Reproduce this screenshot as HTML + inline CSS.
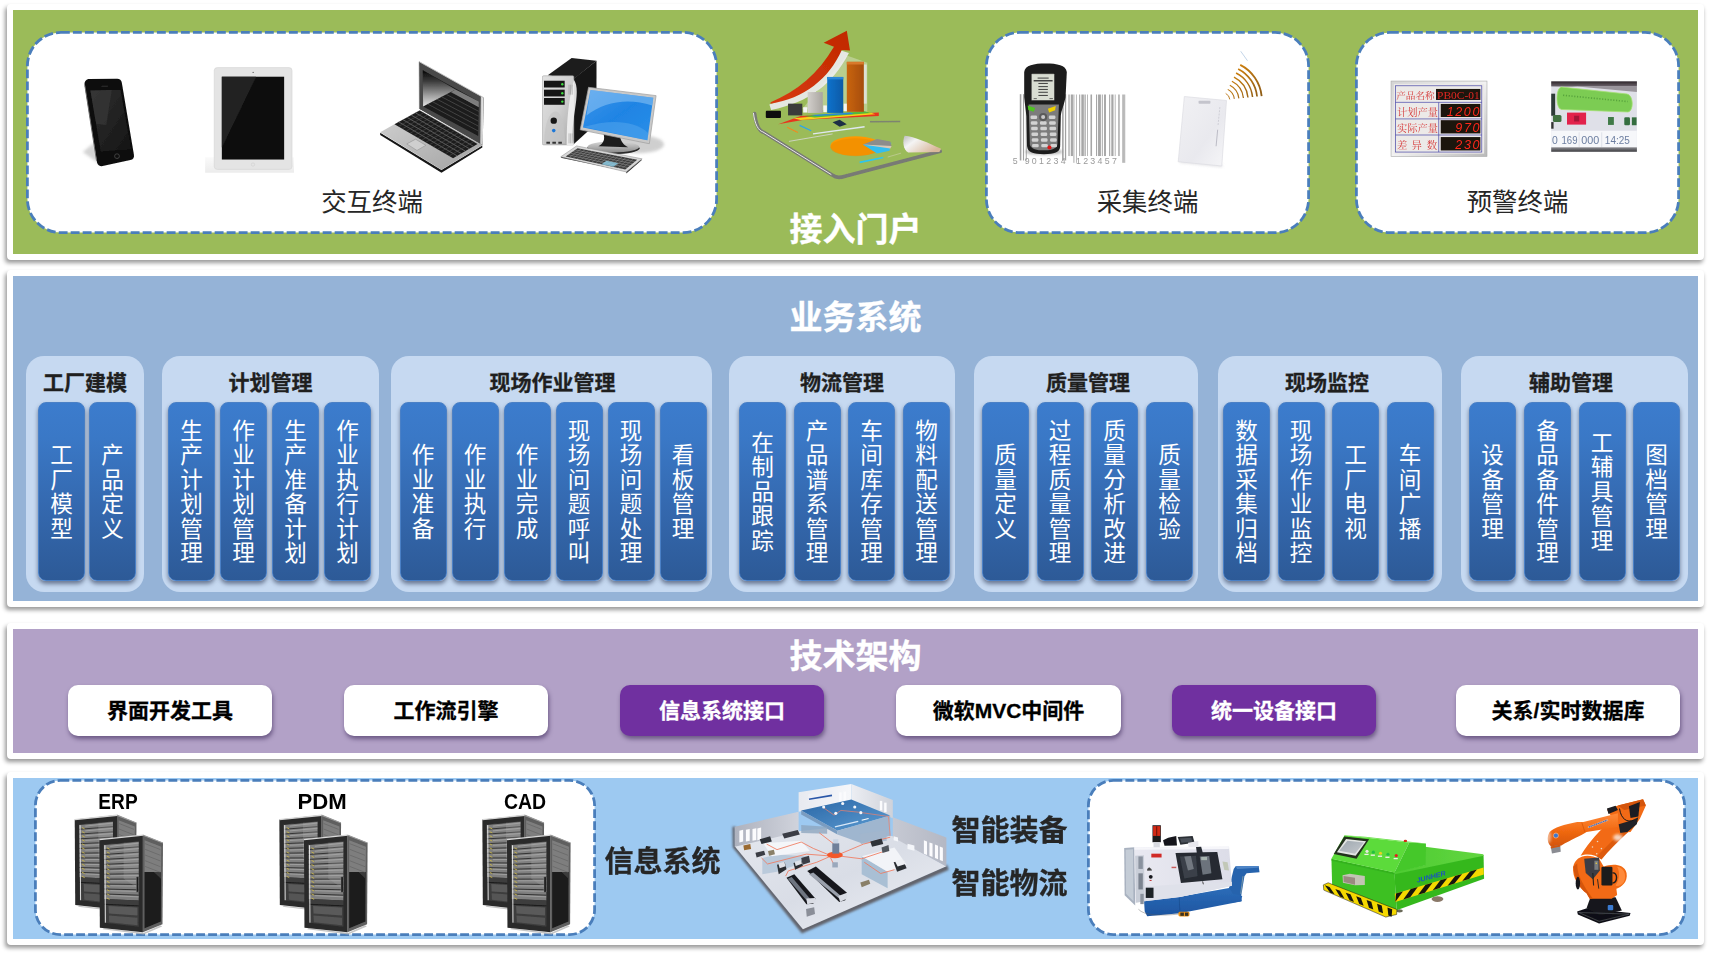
<!DOCTYPE html>
<html lang="zh-CN"><head><meta charset="utf-8"><title>系统架构</title>
<style>
*{box-sizing:border-box;margin:0;padding:0}
html,body{width:1711px;height:955px;background:#fff;overflow:hidden}
body{position:relative;font-family:"Liberation Sans","Noto Sans CJK SC",sans-serif;color:#222}
.panel{position:absolute;left:7px;width:1697px;border:6px solid #fff;border-radius:4px;box-shadow:-1.5px 3px 4px rgba(0,0,0,.4)}
#p1{top:4px;height:256px;background:#9bbb59}
#p2{top:270px;height:337px;background:#95b3d7}
#p3{top:623px;height:136px;background:#b2a1c7}
#p4{top:772px;height:173px;background:#9dc9f1}
.abs{position:absolute}
.ttl{-webkit-text-stroke:.35px #fff;position:absolute;left:0;width:1711px;text-align:center;color:#fff;font-weight:700;font-size:33px;line-height:40px;white-space:nowrap}
.lbl{position:absolute;text-align:center;font-size:25.4px;line-height:30px;color:#262626;white-space:nowrap}
.grp{position:absolute;top:356px;height:236px;background:#c6d9f1;border-radius:18px}
.gt{-webkit-text-stroke:.3px #1f1f1f;position:absolute;top:367.5px;text-align:center;font-weight:700;font-size:21px;line-height:30px;color:#1f1f1f;white-space:nowrap}
.bar{position:absolute;top:402px;height:179px;width:47px;border-radius:8px;background:linear-gradient(#3c7ccd 0%,#3a78c6 20%,#3468ae 60%,#2d5a97 100%);border:1.5px solid #4a80c6;box-shadow:0 3px 4px rgba(30,40,70,.55);color:#fff;font-size:22.6px;line-height:24.5px;padding-top:3px;display:flex;align-items:center;justify-content:center;text-align:center}
.bar span{display:block;width:23px;word-break:break-all}
.btn{-webkit-text-stroke:.3px currentColor;position:absolute;top:685px;height:51px;border-radius:10px;background:#fff;box-shadow:1px 3px 4px rgba(40,20,70,.5);font-weight:700;font-size:21px;line-height:51px;text-align:center;color:#000;white-space:nowrap}
.btn.pp{background:#7030a0;color:#fff}
.big{-webkit-text-stroke:.3px #262626;position:absolute;font-weight:700;font-size:29px;line-height:36px;color:#262626;white-space:nowrap}
.srv{position:absolute;font-weight:700;font-size:22.5px;line-height:26px;color:#000;text-align:center;width:80px;transform-origin:50% 50%}
svg{position:absolute;overflow:visible}
</style></head>
<body>
<div class="panel" id="p1"></div>
<div class="panel" id="p2"></div>
<div class="panel" id="p3"></div>
<div class="panel" id="p4"></div>
<svg style="left:0;top:0" width="1711" height="955"><rect x="27.4" y="32.4" width="689.2" height="200.2" rx="33.5" ry="33.5" fill="#fff" stroke="#4a7ebb" stroke-width="2.8" stroke-dasharray="8.9 3.1"/></svg>
<svg style="left:0;top:0" width="1711" height="955"><rect x="986.4" y="32.4" width="322.2" height="200.2" rx="33.5" ry="33.5" fill="#fff" stroke="#4a7ebb" stroke-width="2.8" stroke-dasharray="8.9 3.1"/></svg>
<svg style="left:0;top:0" width="1711" height="955"><rect x="1356.4" y="32.4" width="322.2" height="200.2" rx="33.5" ry="33.5" fill="#fff" stroke="#4a7ebb" stroke-width="2.8" stroke-dasharray="8.9 3.1"/></svg>
<div class="lbl" style="left:26px;width:692px;top:187px">交互终端</div>
<div class="lbl" style="left:985px;width:325px;top:187px">采集终端</div>
<div class="lbl" style="left:1355px;width:325px;top:187px">预警终端</div>
<div class="ttl" style="top:210px">接入门户</div>
<svg style="left:0;top:0" width="1711" height="955" viewBox="0 0 1711 955"><defs>
<filter id="b3" x="-5%" y="-5%" width="110%" height="110%"><feGaussianBlur stdDeviation=".35"/></filter>
<filter id="b5" x="-5%" y="-5%" width="110%" height="110%"><feGaussianBlur stdDeviation=".5"/></filter>
<filter id="b9" x="-10%" y="-10%" width="120%" height="120%"><feGaussianBlur stdDeviation=".9"/></filter>
<filter id="b8" x="-30%" y="-30%" width="160%" height="160%"><feGaussianBlur stdDeviation="1.6"/></filter>

<linearGradient id="phg" x1="0" y1="0" x2="1" y2="1"><stop offset="0" stop-color="#303030"/><stop offset="1" stop-color="#141414"/></linearGradient>
<linearGradient id="tbs" x1="0" y1="0" x2="0" y2="1"><stop offset="0" stop-color="#fafafa"/><stop offset="1" stop-color="#ececec"/></linearGradient>
<linearGradient id="lpb" x1="0" y1="0" x2="1" y2="1"><stop offset="0" stop-color="#d2d2d2"/><stop offset="1" stop-color="#a2a2a2"/></linearGradient>
<linearGradient id="lps" x1="0" y1="0" x2="0" y2="1"><stop offset="0" stop-color="#060606"/><stop offset=".3" stop-color="#3a3a3a"/><stop offset=".7" stop-color="#a0a0a0"/><stop offset="1" stop-color="#e4e4e4"/></linearGradient>
<linearGradient id="lpe" x1="0" y1="0" x2="1" y2="0"><stop offset="0" stop-color="#9a9a9a"/><stop offset=".6" stop-color="#e8e8e8"/><stop offset="1" stop-color="#bdbdbd"/></linearGradient>
<linearGradient id="twf" x1="0" y1="0" x2="1" y2="1"><stop offset="0" stop-color="#e2e2e2"/><stop offset=".5" stop-color="#d0d0d0"/><stop offset="1" stop-color="#a8a8a8"/></linearGradient>
<linearGradient id="mst" x1="0" y1="0" x2="0" y2="1"><stop offset="0" stop-color="#d8d8d8"/><stop offset="1" stop-color="#8a8a8a"/></linearGradient>
<linearGradient id="msc" x1="0" y1="0" x2="1" y2="1"><stop offset="0" stop-color="#3f95ea"/><stop offset=".5" stop-color="#1f84e4"/><stop offset="1" stop-color="#2a8fe8"/></linearGradient>

<linearGradient id="crl" x1="0" y1="0" x2="1" y2=".6"><stop offset="0" stop-color="#bdbdbd"/><stop offset=".35" stop-color="#f4f4f4"/><stop offset="1" stop-color="#d9b79a"/></linearGradient>
<linearGradient id="bgr" x1="0" y1="0" x2="1" y2="0"><stop offset="0" stop-color="#d2cfcb"/><stop offset="1" stop-color="#a9a5a0"/></linearGradient>
<linearGradient id="bbl" x1="0" y1="0" x2="1" y2="0"><stop offset="0" stop-color="#0a72cc"/><stop offset="1" stop-color="#095aa6"/></linearGradient>
<linearGradient id="bor" x1="0" y1="0" x2="1" y2="0"><stop offset="0" stop-color="#c9640f"/><stop offset="1" stop-color="#a64d08"/></linearGradient>
<linearGradient id="arr" x1="0" y1="1" x2="1" y2="0"><stop offset="0" stop-color="#d83a10"/><stop offset="1" stop-color="#c02800"/></linearGradient>
<linearGradient id="crd" x1="0" y1="0" x2="1" y2="1"><stop offset="0" stop-color="#f1f1f4"/><stop offset=".6" stop-color="#e9e9ee"/><stop offset="1" stop-color="#f6f6f8"/></linearGradient>
<linearGradient id="rfd" gradientUnits="userSpaceOnUse" x1="1225" y1="65" x2="1262" y2="98"><stop offset="0" stop-color="#e08a10"/><stop offset="1" stop-color="#8a5a14"/></linearGradient>
<linearGradient id="slv" x1="0" y1="0" x2="1" y2="1"><stop offset="0" stop-color="#d4d4d4"/><stop offset=".5" stop-color="#f2f2f2"/><stop offset="1" stop-color="#b9b9b9"/></linearGradient>
<linearGradient id="plt" x1="0" y1="0" x2="0" y2="1"><stop offset="0" stop-color="#2c2428"/><stop offset="1" stop-color="#6c646c"/></linearGradient>
<linearGradient id="plb" x1="0" y1="0" x2="0" y2="1"><stop offset="0" stop-color="#8c8c90"/><stop offset="1" stop-color="#3c3c40"/></linearGradient>
</defs>
<g filter="url(#b3)">
<polygon points="82.79,151.93 94.19,142.82 99.51,164.09" fill="#c9c9c9" filter="url(#b8)" opacity=".8"/>
<polygon points="89.18,83.71 117.14,83.4 129.29,155.43 101.64,161.51" fill="#0b0b0b" stroke="#0b0b0b" stroke-width="9.4" stroke-linejoin="round"/>
<line x1="84.92" y1="85.83" x2="96.47" y2="160.29" stroke="#6a6a6a" stroke-width="1.0" stroke-linecap="round"/>
<polygon points="90.39,90.39 120.48,89.78 131.12,149.35 100.72,151.48" fill="url(#phg)" />
<polygon points="90.39,90.39 111.67,89.94 106.35,125.34 96.17,123.82" fill="#3a3a3a" opacity=".55"/>
<circle cx="116.98" cy="156.19" r="2.43" fill="#111" stroke="#4a4a4a" stroke-width=".8"/>
<line x1="101.33" y1="86.29" x2="108.02" y2="86.14" stroke="#444" stroke-width="0.7" />
<rect x="205.12" y="157.25" width="88.9" height="15.5" fill="url(#tbs)" />
<rect x="214.24" y="67.6" width="77.8" height="101.81" rx="3.04" fill="#e4e4e4" stroke="#d4d4d4" stroke-width=".6"/>
<rect x="221.84" y="76.72" width="62.3" height="82.81" fill="#0e0e0e" />
<polygon points="221.84,76.72 256.03,76.72 221.84,147.38" fill="#242424" />
<circle cx="253.14" cy="72.46" r="0.61" fill="#555" />
<circle cx="252.99" cy="164.55" r="1.67" fill="none" stroke="#cfcfcf" stroke-width=".6"/>
</g>
<g filter="url(#b3)">
<polygon points="380.21,132.63 441.47,170.06 482.3,145.56 482.3,147.47 441.47,172.79 380.21,134.94" fill="#141414" />
<polygon points="380.21,132.36 419.69,109.9 482.3,145.29 441.47,169.79" fill="url(#lpb)" />
<polygon points="394.5,124.19 419.69,110.58 477.54,143.93 453.04,158.22" fill="#1d1d1d" />
<line x1="398.7" y1="121.92" x2="457.12" y2="155.84" stroke="#6e6e6e" stroke-width="0.75" />
<line x1="402.9" y1="119.65" x2="461.2" y2="153.46" stroke="#6e6e6e" stroke-width="0.75" />
<line x1="407.09" y1="117.38" x2="465.29" y2="151.07" stroke="#6e6e6e" stroke-width="0.75" />
<line x1="411.29" y1="115.11" x2="469.37" y2="148.69" stroke="#6e6e6e" stroke-width="0.75" />
<line x1="415.49" y1="112.84" x2="473.46" y2="146.31" stroke="#6e6e6e" stroke-width="0.75" />
<line x1="398.4" y1="126.46" x2="423.54" y2="112.8" stroke="#5a5a5a" stroke-width="0.45" />
<line x1="402.31" y1="128.73" x2="427.4" y2="115.02" stroke="#5a5a5a" stroke-width="0.45" />
<line x1="406.21" y1="130.99" x2="431.26" y2="117.25" stroke="#5a5a5a" stroke-width="0.45" />
<line x1="410.11" y1="133.26" x2="435.11" y2="119.47" stroke="#5a5a5a" stroke-width="0.45" />
<line x1="414.01" y1="135.53" x2="438.97" y2="121.69" stroke="#5a5a5a" stroke-width="0.45" />
<line x1="417.92" y1="137.8" x2="442.83" y2="123.92" stroke="#5a5a5a" stroke-width="0.45" />
<line x1="421.82" y1="140.07" x2="446.68" y2="126.14" stroke="#5a5a5a" stroke-width="0.45" />
<line x1="425.72" y1="142.34" x2="450.54" y2="128.36" stroke="#5a5a5a" stroke-width="0.45" />
<line x1="429.62" y1="144.61" x2="454.4" y2="130.59" stroke="#5a5a5a" stroke-width="0.45" />
<line x1="433.53" y1="146.88" x2="458.25" y2="132.81" stroke="#5a5a5a" stroke-width="0.45" />
<line x1="437.43" y1="149.14" x2="462.11" y2="135.03" stroke="#5a5a5a" stroke-width="0.45" />
<line x1="441.33" y1="151.41" x2="465.97" y2="137.26" stroke="#5a5a5a" stroke-width="0.45" />
<line x1="445.23" y1="153.68" x2="469.83" y2="139.48" stroke="#5a5a5a" stroke-width="0.45" />
<line x1="449.13" y1="155.95" x2="473.68" y2="141.7" stroke="#5a5a5a" stroke-width="0.45" />
<polygon points="406.75,143.93 415.6,139.16 425.81,145.29 416.96,150.46" fill="#cfcfcf" stroke="#8a8a8a" stroke-width=".5"/>
<polygon points="419.28,108.81 423.77,106.9 482.44,140.93 482.44,145.29" fill="#505050" />
<polygon points="419.01,61.57 483.66,97.64 482.71,144.74 419.28,108.81" fill="#4a4a4a" />
<polygon points="480.81,96.28 483.66,97.64 482.71,145.02 479.99,143.65" fill="url(#lpe)" />
<line x1="419.01" y1="61.57" x2="483.66" y2="97.64" stroke="#c4c4c4" stroke-width="0.9" />
<line x1="419.14" y1="61.71" x2="419.41" y2="108.81" stroke="#8a8a8a" stroke-width="0.6" />
<polygon points="422.82,70.15 478.9,101.46 478.22,136.03 423.09,106.49" fill="#1c1c1c" />
<polygon points="422.82,70.15 455.49,89.48 423.09,106.49" fill="url(#lps)" />
<line x1="427.72" y1="104.06" x2="478.32" y2="131.09" stroke="#5c5c5c" stroke-width="0.6" />
<line x1="432.35" y1="101.63" x2="478.41" y2="126.15" stroke="#5c5c5c" stroke-width="0.6" />
<line x1="436.97" y1="99.2" x2="478.51" y2="121.21" stroke="#5c5c5c" stroke-width="0.6" />
<line x1="441.6" y1="96.77" x2="478.61" y2="116.27" stroke="#5c5c5c" stroke-width="0.6" />
<line x1="446.23" y1="94.34" x2="478.71" y2="111.33" stroke="#5c5c5c" stroke-width="0.6" />
<line x1="450.86" y1="91.91" x2="478.8" y2="106.39" stroke="#5c5c5c" stroke-width="0.6" />
<polygon points="455.49,89.48 478.9,101.46 478.76,107.17 451.13,91.93" fill="#8e8e8e" opacity=".85"/>
<ellipse cx="638.2" cy="144.32" rx="25.83" ry="8.94" fill="#c4c4c4" filter="url(#b8)" opacity=".8"/>
<polygon points="573.62,78.75 596.47,60.86 596.47,123.46 573.62,144.32" fill="#161616" />
<polygon points="547.78,75.17 571.63,57.88 596.47,60.86 573.62,79.15" fill="#1e1e1e" />
<rect x="542.42" y="75.77" width="31.4" height="69.15" rx="1.19" fill="url(#twf)" stroke="#9a9a9a" stroke-width=".5"/>
<path d="M573.82 79.74C582.56 91.67 568.65 123.46 573.82 144.92L566.66 144.92C566.66 119.49 568.65 99.61 573.82 79.74Z" fill="#f2f2f2" opacity=".9"/>
<rect x="544.01" y="80.74" width="20.67" height="6.75" fill="#151515" />
<circle cx="562.29" cy="84.31" r="1.19" fill="#3ddc3d" />
<rect x="544.01" y="89.68" width="20.67" height="6.75" fill="#151515" />
<circle cx="562.29" cy="93.26" r="1.19" fill="#3ddc3d" />
<rect x="544.01" y="98.02" width="20.67" height="6.76" fill="#151515" />
<circle cx="562.29" cy="101.6" r="1.19" fill="#3ddc3d" />
<path d="M544.01 143.33C544.8 119.49 550.77 111.54 555.73 111.54C560.7 111.54 564.68 123.46 565.07 143.33Z" fill="#c4c4c4" opacity=".7"/>
<circle cx="553.75" cy="120.68" r="3.18" fill="#151515" />
<circle cx="553.75" cy="130.61" r="1.79" fill="#1e78d8" />
<rect x="546.39" y="141.74" width="3.58" height="1.99" fill="#333" />
<rect x="552.36" y="141.74" width="3.57" height="1.99" fill="#333" />
<rect x="558.32" y="141.74" width="3.57" height="1.99" fill="#333" />
<line x1="569.05" y1="84.71" x2="569.05" y2="94.65" stroke="#888" stroke-width="0.5" />
<line x1="569.05" y1="133.4" x2="569.05" y2="143.33" stroke="#888" stroke-width="0.5" />
<line x1="570.64" y1="84.71" x2="570.64" y2="94.65" stroke="#888" stroke-width="0.5" />
<line x1="570.64" y1="133.4" x2="570.64" y2="143.33" stroke="#888" stroke-width="0.5" />
<line x1="572.23" y1="84.71" x2="572.23" y2="94.65" stroke="#888" stroke-width="0.5" />
<line x1="572.23" y1="133.4" x2="572.23" y2="143.33" stroke="#888" stroke-width="0.5" />
<ellipse cx="613.36" cy="148.3" rx="26.23" ry="5.96" fill="#2a2a2a" />
<ellipse cx="613.36" cy="146.91" rx="25.83" ry="5.56" fill="url(#mst)" />
<path d="M603.42 133.4L620.32 136.38C620.32 141.34 624.29 145.32 628.26 147.31L598.46 146.31C603.42 143.33 605.41 139.36 603.42 133.4Z" fill="#1a1a1a" />
<polygon points="588.52,87.29 656.08,95.64 649.33,143.73 580.18,129.82" fill="#c9c9c9" stroke="#9d9d9d" stroke-width=".7" stroke-linejoin="round"/>
<polygon points="590.51,90.08 653.3,97.83 647.34,140.35 582.96,127.43" fill="url(#msc)" />
<path d="M590.51 90.08L653.3 97.83L652.11 105.58C628.26 97.63 604.42 101.6 586.53 115.51Z" fill="#8ec4f4" opacity=".55"/>
<path d="M583.55 127.04C608.39 119.49 634.23 119.49 648.53 133.4L647.34 140.35Z" fill="#56a8ee" opacity=".5"/>
<polygon points="560.7,157.64 576.6,146.71 642.17,159.63 626.28,173.54 626.28,171.15" fill="#2b2b2b" />
<polygon points="560.7,156.84 576.6,145.91 642.17,158.83 626.28,171.95" fill="#d7d7d7" stroke="#8a8a8a" stroke-width=".5"/>
<polygon points="565.67,156.45 577.59,148.3 637.21,159.63 625.28,169.56" fill="#3a3a3a" />
<line x1="568.05" y1="154.82" x2="627.67" y2="167.57" stroke="#a8a8a8" stroke-width="0.45" />
<line x1="570.44" y1="153.19" x2="630.05" y2="165.59" stroke="#a8a8a8" stroke-width="0.45" />
<line x1="572.82" y1="151.56" x2="632.44" y2="163.6" stroke="#a8a8a8" stroke-width="0.45" />
<line x1="575.21" y1="149.93" x2="634.82" y2="161.61" stroke="#a8a8a8" stroke-width="0.45" />
<line x1="569.4" y1="157.27" x2="581.32" y2="149.01" stroke="#a0a0a0" stroke-width="0.4" />
<line x1="573.12" y1="158.09" x2="585.04" y2="149.72" stroke="#a0a0a0" stroke-width="0.4" />
<line x1="576.85" y1="158.91" x2="588.77" y2="150.42" stroke="#a0a0a0" stroke-width="0.4" />
<line x1="580.57" y1="159.73" x2="592.5" y2="151.13" stroke="#a0a0a0" stroke-width="0.4" />
<line x1="584.3" y1="160.55" x2="596.22" y2="151.84" stroke="#a0a0a0" stroke-width="0.4" />
<line x1="588.02" y1="161.36" x2="599.95" y2="152.55" stroke="#a0a0a0" stroke-width="0.4" />
<line x1="591.75" y1="162.18" x2="603.67" y2="153.25" stroke="#a0a0a0" stroke-width="0.4" />
<line x1="595.48" y1="163.0" x2="607.4" y2="153.96" stroke="#a0a0a0" stroke-width="0.4" />
<line x1="599.2" y1="163.82" x2="611.13" y2="154.67" stroke="#a0a0a0" stroke-width="0.4" />
<line x1="602.93" y1="164.64" x2="614.85" y2="155.38" stroke="#a0a0a0" stroke-width="0.4" />
<line x1="606.65" y1="165.46" x2="618.58" y2="156.09" stroke="#a0a0a0" stroke-width="0.4" />
<line x1="610.38" y1="166.28" x2="622.3" y2="156.79" stroke="#a0a0a0" stroke-width="0.4" />
<line x1="614.11" y1="167.1" x2="626.03" y2="157.5" stroke="#a0a0a0" stroke-width="0.4" />
<line x1="617.83" y1="167.92" x2="629.75" y2="158.21" stroke="#a0a0a0" stroke-width="0.4" />
<line x1="621.56" y1="168.74" x2="633.48" y2="158.92" stroke="#a0a0a0" stroke-width="0.4" />
<polygon points="601.44,164.2 606.41,160.82 618.33,163.2 613.36,166.78" fill="#8fd0e8" opacity=".8"/>
</g>
<g filter="url(#b5)">
<path d="M754.6 113.45C756.02 125.02 759.58 131.25 764.03 132.49L832.56 175.21C835.23 177.52 839.68 178.06 845.02 176.28L940.24 151.36" fill="none" stroke="#767676" stroke-width="3.6" stroke-linecap="round" stroke-linejoin="round" opacity=".95" filter="url(#b5)"/>
<path d="M754.6 113.45C756.02 125.02 759.58 131.25 764.03 132.49L832.56 175.21" fill="none" stroke="#e9e9e9" stroke-width="1" transform="translate(-1.2,-.6)"/>
<path d="M904.64 135.7C914.43 136.59 928.67 142.82 941.13 148.87L939.35 152.07L908.2 152.61C902.86 149.05 902.33 141.04 904.64 135.7Z" fill="url(#crl)" />
<line x1="869.94" y1="121.81" x2="900.19" y2="121.46" stroke="#777" stroke-width="1.6" opacity=".8"/>
<line x1="788.95" y1="141.39" x2="832.56" y2="133.92" stroke="#d8d8d8" stroke-width="0.8" />
<line x1="812.98" y1="133.92" x2="864.6" y2="126.8" stroke="#dfe8f0" stroke-width="1.4" />
<line x1="787.17" y1="127.33" x2="797.85" y2="132.49" stroke="#f08a1e" stroke-width="1.2" />
<line x1="799.63" y1="125.37" x2="811.2" y2="130.71" stroke="#2aa6ee" stroke-width="1.2" />
<polygon points="832.56,122.35 839.68,119.68 846.8,124.13 839.68,126.8" fill="#1d2d44" />
<line x1="859.61" y1="162.39" x2="883.28" y2="157.41" stroke="#2ec6ee" stroke-width="1.6" />
<line x1="887.73" y1="157.06" x2="901.08" y2="153.14" stroke="#b9c98a" stroke-width="1" />
<ellipse cx="855.7" cy="146.02" rx="25.28" ry="9.79" fill="#ff9900" />
<ellipse cx="855.7" cy="147.27" rx="25.28" ry="8.9" fill="#e88a00" opacity=".5"/>
<polygon points="862.82,144.6 891.29,142.82 889.51,150.83 877.06,153.5" fill="#33bdf0" />
<polygon points="862.82,144.6 877.06,138.9 890.4,141.39 891.65,146.38" fill="#8c8c8c" />
<polygon points="862.82,144.6 891.65,146.02 890.4,148.51" fill="#d9c7b5" />
<path d="M769.37 104.55C796.96 96.54 818.32 78.74 837.01 49.37L848.93 52.93C832.56 84.08 809.42 102.23 771.15 109.89Z" fill="#e9e9e9" opacity=".95" filter="url(#b5)"/>
<polygon points="802.3,109 846.8,55.6 867.27,62.72 867.27,112.56" fill="#f0f0f0" opacity=".35"/>
<polygon points="778.27,124.13 800.52,116.12 878.83,112.56 878.83,116.12 804.08,119.68" fill="#e8351e" />
<polygon points="793.4,118.25 868.16,111.84 875.28,114.34 800.52,120.03" fill="#f6d21a" />
<polygon points="804.08,116.12 864.6,111.13 871.72,112.91 814.76,117.54" fill="#53b83a" />
<polygon points="811.2,115.05 850.36,112.56 853.92,113.98 816.54,116.12" fill="#2a8ad8" />
<rect x="765.81" y="110.78" width="15.13" height="7.12" rx="0.89" fill="#0a0a0a" />
<rect x="788.06" y="103.66" width="14.24" height="11.74" fill="#3b3b3b" />
<rect x="807.64" y="92.09" width="15.13" height="20.82" fill="url(#bgr)" />
<rect x="827.22" y="76.96" width="16.02" height="35.95" fill="url(#bbl)" />
<rect x="846.8" y="61.83" width="17.08" height="50.01" fill="url(#bor)" />
<rect x="846.8" y="61.83" width="17.08" height="2.67" fill="#d8792a" />
<rect x="827.22" y="76.96" width="16.02" height="2.49" fill="#2a86d8" />
<rect x="803.19" y="107.22" width="4.09" height="5.34" fill="#f4f4f4" />
<rect x="823.3" y="105.44" width="3.56" height="6.76" fill="#f4f4f4" />
<rect x="843.77" y="103.66" width="3.03" height="7.47" fill="#f4f4f4" />
<rect x="863.88" y="64.5" width="2.85" height="39.16" fill="#e6e6e6" opacity=".8"/>
<path d="M770.61 102.23C796.96 91.2 818.32 73.4 833.98 46.7L823.66 42.78L846.8 30.68L850 50.61L841.81 49.9C829 78.74 804.08 98.32 770.61 103.66Z" fill="url(#arr)" />
</g>
<g filter="url(#b3)">
<rect x="1019.78" y="94.18" width="1.58" height="66.28" fill="#a2a2a2" />
<rect x="1022.94" y="94.18" width="1.1" height="66.28" fill="#a2a2a2" />
<rect x="1025.78" y="94.18" width="0.95" height="66.28" fill="#a2a2a2" />
<rect x="1062.07" y="94.18" width="1.58" height="66.28" fill="#a2a2a2" />
<rect x="1064.92" y="94.18" width="1.26" height="66.28" fill="#a2a2a2" />
<rect x="1068.39" y="94.5" width="1.26" height="61.54" fill="#a6a6a6" />
<rect x="1070.75" y="94.5" width="2.21" height="61.54" fill="#a6a6a6" />
<rect x="1073.44" y="94.5" width="0.94" height="68.33" fill="#a6a6a6" />
<rect x="1075.96" y="94.5" width="0.79" height="68.33" fill="#a6a6a6" />
<rect x="1079.12" y="94.5" width="1.1" height="61.54" fill="#a6a6a6" />
<rect x="1081.33" y="94.5" width="2.52" height="61.54" fill="#a6a6a6" />
<rect x="1084.48" y="94.5" width="1.27" height="61.54" fill="#a6a6a6" />
<rect x="1087.01" y="94.5" width="0.79" height="61.54" fill="#a6a6a6" />
<rect x="1090.48" y="94.5" width="1.58" height="61.54" fill="#a6a6a6" />
<rect x="1096.0" y="94.5" width="1.11" height="61.54" fill="#a6a6a6" />
<rect x="1098.05" y="94.5" width="2.84" height="61.54" fill="#a6a6a6" />
<rect x="1101.84" y="94.5" width="0.95" height="61.54" fill="#a6a6a6" />
<rect x="1104.05" y="94.5" width="1.89" height="61.54" fill="#a6a6a6" />
<rect x="1109.1" y="94.5" width="1.1" height="61.54" fill="#a6a6a6" />
<rect x="1111.31" y="94.5" width="2.21" height="61.54" fill="#a6a6a6" />
<rect x="1114.78" y="94.5" width="0.79" height="61.54" fill="#a6a6a6" />
<rect x="1118.25" y="94.5" width="1.42" height="61.54" fill="#a6a6a6" />
<rect x="1122.36" y="94.5" width="1.42" height="68.33" fill="#a6a6a6" />
<rect x="1124.25" y="94.5" width="0.95" height="68.33" fill="#a6a6a6" />
<text x="1012.84" y="164.41" font-family="Liberation Sans,sans-serif" font-size="8.8" letter-spacing="2.3" fill="#9a9a9a">5</text>
<text x="1024.68" y="164.41" font-family="Liberation Sans,sans-serif" font-size="8.8" letter-spacing="2.3" fill="#9a9a9a">901234</text>
<text x="1075.96" y="164.41" font-family="Liberation Sans,sans-serif" font-size="8.8" letter-spacing="2.3" fill="#9a9a9a">123457</text>
<ellipse cx="1043.93" cy="151.78" rx="18.94" ry="2.84" fill="#8a8a8a" filter="url(#b8)" opacity=".7"/>
<path d="M1024.2 72.09C1024.99 64.99 1033.67 63.41 1045.51 63.41C1057.34 63.41 1066.02 64.99 1066.81 72.09L1065.55 97.34C1063.65 106.81 1061.29 109.96 1060.81 116.28L1060.18 146.26C1059.87 152.57 1054.18 154.15 1043.93 154.15C1033.67 154.15 1027.67 152.57 1027.04 146.26L1026.41 116.28C1025.78 109.96 1024.99 105.23 1024.2 97.34Z" fill="#1c1c1c" />
<path d="M1028.62 104.44L1058.92 104.44L1057.34 144.68C1055.76 149.73 1049.45 150.36 1043.45 150.36C1036.83 150.36 1031.3 149.1 1029.88 144.68Z" fill="#7c7c7c" />
<rect x="1031.3" y="73.67" width="23.2" height="26.83" rx="0.95" fill="#d9ddd2" stroke="#333" stroke-width=".6"/>
<line x1="1037.62" y1="78.09" x2="1048.66" y2="78.09" stroke="#2e2e2e" stroke-width="0.9" />
<line x1="1033.67" y1="80.77" x2="1052.61" y2="80.77" stroke="#2e2e2e" stroke-width="1.3" />
<line x1="1038.4" y1="83.45" x2="1047.87" y2="83.45" stroke="#2e2e2e" stroke-width="0.9" />
<line x1="1038.4" y1="86.61" x2="1047.87" y2="86.61" stroke="#2e2e2e" stroke-width="0.9" />
<line x1="1038.4" y1="89.45" x2="1047.87" y2="89.45" stroke="#2e2e2e" stroke-width="0.9" />
<line x1="1038.4" y1="92.29" x2="1047.87" y2="92.29" stroke="#2e2e2e" stroke-width="0.9" />
<line x1="1038.4" y1="95.45" x2="1047.87" y2="95.45" stroke="#2e2e2e" stroke-width="0.9" />
<line x1="1033.67" y1="98.6" x2="1036.83" y2="98.6" stroke="#333" stroke-width="0.7" />
<line x1="1049.45" y1="98.6" x2="1052.92" y2="98.6" stroke="#333" stroke-width="0.7" />
<polygon points="1027.67,105.55 1035.25,108.07 1033.67,111.86 1028.31,109.96" fill="#4fc321" />
<polygon points="1047.87,108.7 1055.76,106.02 1055.13,110.28 1049.14,112.49" fill="#f0d000" />
<rect x="1030.51" y="115.49" width="6.63" height="3.47" rx="1.26" fill="#d2d2d2" />
<rect x="1048.82" y="115.49" width="6.63" height="3.47" rx="1.26" fill="#d2d2d2" />
<rect x="1030.83" y="121.17" width="6.63" height="3.47" rx="1.26" fill="#d2d2d2" />
<rect x="1039.98" y="121.17" width="6.63" height="3.47" rx="1.26" fill="#d2d2d2" />
<rect x="1049.14" y="121.17" width="6.62" height="3.47" rx="1.26" fill="#d2d2d2" />
<rect x="1031.15" y="126.85" width="6.62" height="3.47" rx="1.26" fill="#d2d2d2" />
<rect x="1040.3" y="126.85" width="6.63" height="3.47" rx="1.26" fill="#d2d2d2" />
<rect x="1049.45" y="126.85" width="6.63" height="3.47" rx="1.26" fill="#d2d2d2" />
<rect x="1031.46" y="132.53" width="6.63" height="3.47" rx="1.26" fill="#d2d2d2" />
<rect x="1040.61" y="132.53" width="6.63" height="3.47" rx="1.26" fill="#d2d2d2" />
<rect x="1049.77" y="132.53" width="6.62" height="3.47" rx="1.26" fill="#d2d2d2" />
<rect x="1031.78" y="138.21" width="6.62" height="3.47" rx="1.26" fill="#d2d2d2" />
<rect x="1040.93" y="138.21" width="6.63" height="3.47" rx="1.26" fill="#d2d2d2" />
<rect x="1050.08" y="138.21" width="6.63" height="3.47" rx="1.26" fill="#d2d2d2" />
<rect x="1032.09" y="143.89" width="6.63" height="3.47" rx="1.26" fill="#d2d2d2" />
<rect x="1041.24" y="143.89" width="6.63" height="3.47" rx="1.26" fill="#d2d2d2" />
<rect x="1050.4" y="143.89" width="6.63" height="3.47" rx="1.26" fill="#d2d2d2" />
<circle cx="1043.14" cy="117.07" r="4.1" fill="#5a5a5a" />
<circle cx="1043.14" cy="117.07" r="2.05" fill="#c8c8c8" />
<circle cx="1049.45" cy="147.52" r="2.05" fill="#e01818" />
<polygon points="1180.11,162.36 1222.72,166.77 1221.77,164.88 1179.16,160.46" fill="#cfcfd4" filter="url(#b8)"/>
<polygon points="1184.37,96.55 1226.5,100.5 1221.77,165.98 1178.22,161.72" fill="url(#crd)" stroke="#dcdce2" stroke-width=".7" stroke-linejoin="round"/>
<rect x="1198.57" y="100.81" width="11.84" height="2.84" rx="0.63" fill="#c4c4cc" />
<line x1="1219.88" y1="107.12" x2="1217.98" y2="125.75" stroke="#c8c8d0" stroke-width="0.8" stroke-dasharray="2 1.2"/>
<line x1="1217.67" y1="129.69" x2="1216.09" y2="146.26" stroke="#bcbcc6" stroke-width="1" />
<path d="M1225.68 93.43A7.57 7.57 0 0 1 1229.77 99.39" fill="none" stroke="url(#rfd)" stroke-width="0.90"/>
<path d="M1227.76 89.35A12.15 12.15 0 0 1 1234.32 98.91" fill="none" stroke="url(#rfd)" stroke-width="1.03"/>
<path d="M1229.83 85.28A16.73 16.73 0 0 1 1238.88 98.43" fill="none" stroke="url(#rfd)" stroke-width="1.16"/>
<path d="M1231.91 81.20A21.30 21.30 0 0 1 1243.43 97.95" fill="none" stroke="url(#rfd)" stroke-width="1.29"/>
<path d="M1233.99 77.12A25.88 25.88 0 0 1 1247.98 97.47" fill="none" stroke="url(#rfd)" stroke-width="1.42"/>
<path d="M1236.07 73.04A30.46 30.46 0 0 1 1252.53 97.00" fill="none" stroke="url(#rfd)" stroke-width="1.55"/>
<path d="M1238.14 68.97A35.03 35.03 0 0 1 1257.08 96.52" fill="none" stroke="url(#rfd)" stroke-width="1.68"/>
<path d="M1240.22 64.89A39.61 39.61 0 0 1 1261.63 96.04" fill="none" stroke="url(#rfd)" stroke-width="1.81"/>
<line x1="1240.71" y1="51.26" x2="1247.49" y2="60.73" stroke="#9ab8d8" stroke-width="0.6" />
</g>
<g filter="url(#b3)">
<rect x="1391.05" y="81.05" width="95.94" height="75.43" fill="url(#slv)" stroke="#a8a8a8" stroke-width=".6"/>
<rect x="1393.89" y="83.89" width="90.26" height="69.75" fill="#eceae8" />
<rect x="1395.46" y="85.78" width="86.32" height="66.28" fill="none" stroke="#4646a8" stroke-width=".7"/>
<line x1="1395.46" y1="102.35" x2="1481.78" y2="102.35" stroke="#4646a8" stroke-width="0.7" />
<line x1="1395.46" y1="118.92" x2="1481.78" y2="118.92" stroke="#4646a8" stroke-width="0.7" />
<line x1="1395.46" y1="135.01" x2="1481.78" y2="135.01" stroke="#4646a8" stroke-width="0.7" />
<line x1="1438.7" y1="102.35" x2="1438.7" y2="152.06" stroke="#4646a8" stroke-width="0.7" />
<rect x="1436.02" y="88.94" width="44.34" height="11.04" fill="#1a1210" />
<rect x="1440.75" y="103.93" width="39.61" height="13.1" fill="#1a1210" />
<rect x="1440.75" y="120.18" width="39.61" height="13.26" fill="#1a1210" />
<rect x="1440.75" y="137.07" width="39.61" height="13.41" fill="#1a1210" />
<text x="1396.25" y="98.72" font-size="9.6" font-family="Liberation Serif,Noto Serif CJK SC,serif" fill="#d63a3a" textLength="38.5" lengthAdjust="spacingAndGlyphs">产品名称</text>
<text x="1397.04" y="115.76" font-size="10.4" font-family="Liberation Serif,Noto Serif CJK SC,serif" fill="#d63a3a" textLength="41" lengthAdjust="spacingAndGlyphs">计划产量</text>
<text x="1397.04" y="132.33" font-size="10.4" font-family="Liberation Serif,Noto Serif CJK SC,serif" fill="#d63a3a" textLength="41" lengthAdjust="spacingAndGlyphs">实际产量</text>
<text x="1397.04" y="148.9" font-size="10.4" font-family="Liberation Serif,Noto Serif CJK SC,serif" fill="#d63a3a">差</text>
<text x="1411.56" y="148.9" font-size="10.4" font-family="Liberation Serif,Noto Serif CJK SC,serif" fill="#d63a3a">异</text>
<text x="1426.71" y="148.9" font-size="10.4" font-family="Liberation Serif,Noto Serif CJK SC,serif" fill="#d63a3a">数</text>
<text x="1437.12" y="99.04" font-size="9.6" font-family="Liberation Serif,serif" fill="#e02a20" textLength="42.5" lengthAdjust="spacingAndGlyphs">PB0C-01</text>
<text x="1480.99" y="115.76" font-size="12.5" font-family="Liberation Sans,sans-serif" font-style="italic" fill="#ff2a1a" text-anchor="end" letter-spacing="1.6">1200</text>
<text x="1480.99" y="132.17" font-size="12.5" font-family="Liberation Sans,sans-serif" font-style="italic" fill="#ff2a1a" text-anchor="end" letter-spacing="1.6">970</text>
<text x="1480.99" y="149.22" font-size="12.5" font-family="Liberation Sans,sans-serif" font-style="italic" fill="#ff2a1a" text-anchor="end" letter-spacing="1.6">230</text>
<rect x="1551.22" y="81.36" width="85.68" height="70.38" fill="#dfe0e8" />
<rect x="1551.22" y="81.36" width="85.68" height="5.05" fill="url(#plt)" />
<polygon points="1551.22,86.41 1636.9,86.41 1636.9,92.09 1569.36,85.78" fill="#6a6068" opacity=".6"/>
<rect x="1551.22" y="93.67" width="3.94" height="22.09" fill="#2f3a38" />
<rect x="1551.22" y="122.07" width="2.36" height="6.63" fill="#333" />
<path d="M1561.47 87.04L1626.96 93.99C1633.75 94.93 1633.75 111.34 1628.07 111.98L1561.47 109.45C1555.48 109.14 1555.48 87.67 1561.47 87.04Z" fill="#7ccc52" stroke="#a4e074" stroke-width=".8"/>
<path d="M1563.05 95.25L1627.75 101.56" fill="none" stroke="#4f9a3a" stroke-width="1.6" stroke-dasharray="1.2 1.6" opacity=".8"/>
<rect x="1567.0" y="112.61" width="19.09" height="11.99" fill="#e2204c" />
<rect x="1574.1" y="115.76" width="5.05" height="5.68" fill="#8a1530" opacity=".7"/>
<rect x="1552.95" y="114.97" width="8.52" height="7.1" rx="1.58" fill="#3f7040" />
<rect x="1608.02" y="117.03" width="5.84" height="7.89" fill="#3f7a46" />
<rect x="1624.28" y="117.34" width="5.68" height="7.89" rx="1.26" fill="#356e40" />
<rect x="1631.85" y="117.34" width="4.74" height="7.89" fill="#356e40" />
<rect x="1551.22" y="130.75" width="85.68" height="16.89" fill="#f6f7fa" />
<rect x="1551.22" y="147.32" width="85.68" height="4.42" fill="url(#plb)" />
<line x1="1579.15" y1="132.33" x2="1579.15" y2="147.01" stroke="#c8ccd8" stroke-width="0.5" />
<line x1="1601.71" y1="132.33" x2="1601.71" y2="147.01" stroke="#c8ccd8" stroke-width="0.5" />
<text x="1552.0" y="143.85" font-size="10.4" font-family="Liberation Sans,sans-serif" fill="#6c7ea0">0</text>
<text x="1561.47" y="143.85" font-size="10.4" font-family="Liberation Sans,sans-serif" fill="#6c7ea0" textLength="16" lengthAdjust="spacingAndGlyphs">169</text>
<text x="1581.2" y="143.85" font-size="10.4" font-family="Liberation Sans,sans-serif" fill="#6c7ea0" textLength="18" lengthAdjust="spacingAndGlyphs">000</text>
<text x="1604.87" y="144.17" font-size="10.4" font-family="Liberation Sans,sans-serif" fill="#6c7ea0" textLength="25" lengthAdjust="spacingAndGlyphs">14:25</text>
</g>
</svg>
<div class="ttl" style="top:297.5px">业务系统</div>
<div class="grp" style="left:26px;width:118px"></div><div class="gt" style="left:26px;width:118px">工厂建模</div>
<div class="bar" style="left:38px"><span>工厂模型</span></div><div class="bar" style="left:89px"><span>产品定义</span></div>
<div class="grp" style="left:162px;width:217px"></div><div class="gt" style="left:162px;width:217px">计划管理</div>
<div class="bar" style="left:168px"><span>生产计划管理</span></div><div class="bar" style="left:220px"><span>作业计划管理</span></div><div class="bar" style="left:272px"><span>生产准备计划</span></div><div class="bar" style="left:324px"><span>作业执行计划</span></div>
<div class="grp" style="left:391px;width:321px"></div><div class="gt" style="left:392px;width:321px">现场作业管理</div>
<div class="bar" style="left:399.5px"><span>作业准备</span></div><div class="bar" style="left:451.5px"><span>作业执行</span></div><div class="bar" style="left:503.5px"><span>作业完成</span></div><div class="bar" style="left:555.5px"><span>现场问题呼叫</span></div><div class="bar" style="left:607.5px"><span>现场问题处理</span></div><div class="bar" style="left:659.5px"><span>看板管理</span></div>
<div class="grp" style="left:729px;width:226px"></div><div class="gt" style="left:729px;width:226px">物流管理</div>
<div class="bar" style="left:739px"><span>在制品跟踪</span></div><div class="bar" style="left:793.5px"><span>产品谱系管理</span></div><div class="bar" style="left:848px"><span>车间库存管理</span></div><div class="bar" style="left:903px"><span>物料配送管理</span></div>
<div class="grp" style="left:974px;width:224px"></div><div class="gt" style="left:976px;width:224px">质量管理</div>
<div class="bar" style="left:982px"><span>质量定义</span></div><div class="bar" style="left:1036.5px"><span>过程质量管理</span></div><div class="bar" style="left:1091px"><span>质量分析改进</span></div><div class="bar" style="left:1146px"><span>质量检验</span></div>
<div class="grp" style="left:1218px;width:224px"></div><div class="gt" style="left:1215px;width:224px">现场监控</div>
<div class="bar" style="left:1223px"><span>数据采集归档</span></div><div class="bar" style="left:1277.5px"><span>现场作业监控</span></div><div class="bar" style="left:1332px"><span>工厂电视</span></div><div class="bar" style="left:1386.5px"><span>车间广播</span></div>
<div class="grp" style="left:1461px;width:227px"></div><div class="gt" style="left:1457.5px;width:227px">辅助管理</div>
<div class="bar" style="left:1469px"><span>设备管理</span></div><div class="bar" style="left:1524px"><span>备品备件管理</span></div><div class="bar" style="left:1578.5px"><span>工辅具管理</span></div><div class="bar" style="left:1633px"><span>图档管理</span></div>
<div class="ttl" style="top:636.5px">技术架构</div>
<div class="btn" style="left:68px;width:204px">界面开发工具</div>
<div class="btn" style="left:344px;width:204px">工作流引擎</div>
<div class="btn pp" style="left:620px;width:204px">信息系统接口</div>
<div class="btn" style="left:896px;width:225px">微软MVC中间件</div>
<div class="btn pp" style="left:1172px;width:204px">统一设备接口</div>
<div class="btn" style="left:1456px;width:224px">关系/实时数据库</div>
<svg style="left:0;top:0" width="1711" height="955"><rect x="35.4" y="780.4" width="559.2" height="154.2" rx="25" ry="25" fill="#fff" stroke="#4a7ebb" stroke-width="2.8" stroke-dasharray="8.9 3.1"/></svg>
<svg style="left:0;top:0" width="1711" height="955"><rect x="1088.4" y="780.4" width="596.2" height="154.2" rx="25" ry="25" fill="#fff" stroke="#4a7ebb" stroke-width="2.8" stroke-dasharray="8.9 3.1"/></svg>
<div class="big" style="left:604.5px;top:844px">信息系统</div>
<div class="big" style="left:951.5px;top:813px">智能装备</div>
<div class="big" style="left:951.5px;top:866px">智能物流</div>
<div class="srv" style="left:78.3px;top:789px;transform:scaleX(0.85)">ERP</div>
<div class="srv" style="left:281.8px;top:789px;transform:scaleX(0.985)">PDM</div>
<div class="srv" style="left:485.29999999999995px;top:789px;transform:scaleX(0.865)">CAD</div>
<svg style="left:0;top:0" width="1711" height="955" viewBox="0 0 1711 955"><defs>
<linearGradient id="flr" x1="0" y1="0" x2="1" y2="1"><stop offset="0" stop-color="#e4e7ee"/><stop offset=".5" stop-color="#d9dde6"/><stop offset="1" stop-color="#eef0f5"/></linearGradient>
<linearGradient id="wl1" x1="0" y1="0" x2="1" y2="0"><stop offset="0" stop-color="#aeb2be"/><stop offset="1" stop-color="#d0d3dc"/></linearGradient>
<linearGradient id="wl2" x1="0" y1="0" x2="1" y2="0"><stop offset="0" stop-color="#e8eaf0"/><stop offset="1" stop-color="#f6f7fa"/></linearGradient>
<linearGradient id="wl3" x1="0" y1="0" x2="1" y2="0"><stop offset="0" stop-color="#eceef3"/><stop offset="1" stop-color="#cfd2da"/></linearGradient>
<linearGradient id="wl4" x1="0" y1="0" x2="1" y2="0"><stop offset="0" stop-color="#c6c9d3"/><stop offset="1" stop-color="#b4b8c4"/></linearGradient>
<linearGradient id="blu" x1="0" y1="0" x2="1" y2="1"><stop offset="0" stop-color="#2a66a6"/><stop offset="1" stop-color="#5c9cd2"/></linearGradient>
<linearGradient id="cnb" x1="0" y1="0" x2="0" y2="1"><stop offset="0" stop-color="#2c6cb8"/><stop offset="1" stop-color="#1c54a0"/></linearGradient>
<linearGradient id="cnf" x1="0" y1="0" x2="1" y2="0"><stop offset="0" stop-color="#e9e9f1"/><stop offset="1" stop-color="#dcdde8"/></linearGradient>
<linearGradient id="agt" x1="0" y1="0" x2="1" y2="0"><stop offset="0" stop-color="#4ecb32"/><stop offset="1" stop-color="#62d640"/></linearGradient>
<linearGradient id="ags" x1="0" y1="0" x2="1" y2="1"><stop offset="0" stop-color="#9ea8b0"/><stop offset="1" stop-color="#c4c8cc"/></linearGradient>
<linearGradient id="rba" x1="0" y1="0" x2="0" y2="1"><stop offset="0" stop-color="#ff8a3a"/><stop offset=".5" stop-color="#f26a12"/><stop offset="1" stop-color="#d4540a"/></linearGradient>
</defs>
<g filter="url(#b3)" transform="translate(-24.6,-19.8) translate(99,834) scale(.97) translate(-99,-834)"><polygon points="102.7,929.35 143.73,934.38 162.15,926.51 160.48,925.33 143.73,932.7 103.88,928.35" fill="#b8b8b8" opacity=".8"/>
<polygon points="142.89,834.9 162.99,842.78 162.49,924.33 142.89,932.37" fill="#5e5e5e" />
<polygon points="144.57,840.26 161.32,846.63 160.98,872.08 144.57,872.08" fill="#8a8a8a" opacity=".75"/>
<polygon points="144.57,872.08 160.98,872.08 160.81,921.48 144.57,928.18" fill="#1b1b1b" />
<polygon points="144.57,872.08 153.78,872.08 160.98,878.78 160.98,872.08" fill="#3a3a3a" />
<line x1="145.07" y1="843.61" x2="160.48" y2="849.64" stroke="#5a5a5a" stroke-width="0.5" />
<line x1="145.07" y1="849.31" x2="160.48" y2="855.33" stroke="#5a5a5a" stroke-width="0.5" />
<line x1="145.07" y1="855.0" x2="160.48" y2="861.03" stroke="#5a5a5a" stroke-width="0.5" />
<line x1="145.07" y1="860.69" x2="160.48" y2="866.72" stroke="#5a5a5a" stroke-width="0.5" />
<line x1="145.07" y1="866.39" x2="160.48" y2="872.42" stroke="#5a5a5a" stroke-width="0.5" />
<polygon points="99.35,839.43 142.89,834.9 142.89,932.37 99.86,927.68" fill="#2b2b2b" />
<polygon points="99.35,838.92 142.89,834.4 143.23,835.74 99.52,840.26" fill="#d8d8d8" />
<polygon points="142.89,834.4 162.99,842.44 162.82,843.61 142.89,835.74" fill="#9a9a9a" />
<polygon points="103.88,844.62 138.71,841.44 138.71,900.55 104.21,898.88" fill="#7f7f7f" />
<polygon points="104.21,898.88 138.71,900.55 138.71,926.67 104.55,922.66" fill="#3d3d3d" />
<line x1="103.88" y1="844.62" x2="138.71" y2="841.44" stroke="#2a2a2a" stroke-width="0.9" />
<line x1="110.24" y1="846.29" x2="138.71" y2="843.11" stroke="#b9b9b9" stroke-width="0.7" opacity=".8"/>
<line x1="103.88" y1="849.55" x2="138.71" y2="846.81" stroke="#2a2a2a" stroke-width="0.9" />
<line x1="110.24" y1="851.22" x2="138.71" y2="848.48" stroke="#b9b9b9" stroke-width="0.7" opacity=".8"/>
<line x1="103.88" y1="854.48" x2="138.71" y2="852.18" stroke="#2a2a2a" stroke-width="0.9" />
<line x1="110.24" y1="856.16" x2="138.71" y2="853.86" stroke="#b9b9b9" stroke-width="0.7" opacity=".8"/>
<line x1="103.88" y1="859.41" x2="138.71" y2="857.56" stroke="#2a2a2a" stroke-width="0.9" />
<line x1="110.24" y1="861.09" x2="138.71" y2="859.23" stroke="#b9b9b9" stroke-width="0.7" opacity=".8"/>
<line x1="103.88" y1="864.35" x2="138.71" y2="862.93" stroke="#2a2a2a" stroke-width="0.9" />
<line x1="110.24" y1="866.02" x2="138.71" y2="864.61" stroke="#b9b9b9" stroke-width="0.7" opacity=".8"/>
<line x1="103.88" y1="869.28" x2="138.71" y2="868.31" stroke="#2a2a2a" stroke-width="0.9" />
<line x1="110.24" y1="870.95" x2="138.71" y2="869.98" stroke="#b9b9b9" stroke-width="0.7" opacity=".8"/>
<line x1="103.88" y1="874.21" x2="138.71" y2="873.68" stroke="#2a2a2a" stroke-width="0.9" />
<line x1="110.24" y1="875.89" x2="138.71" y2="875.35" stroke="#b9b9b9" stroke-width="0.7" opacity=".8"/>
<line x1="103.88" y1="879.15" x2="138.71" y2="879.05" stroke="#2a2a2a" stroke-width="0.9" />
<line x1="110.24" y1="880.82" x2="138.71" y2="880.73" stroke="#b9b9b9" stroke-width="0.7" opacity=".8"/>
<line x1="103.88" y1="884.08" x2="138.71" y2="884.43" stroke="#2a2a2a" stroke-width="0.9" />
<line x1="110.24" y1="885.75" x2="138.71" y2="886.1" stroke="#b9b9b9" stroke-width="0.7" opacity=".8"/>
<line x1="103.88" y1="889.01" x2="138.71" y2="889.8" stroke="#2a2a2a" stroke-width="0.9" />
<line x1="110.24" y1="890.69" x2="138.71" y2="891.48" stroke="#b9b9b9" stroke-width="0.7" opacity=".8"/>
<line x1="103.88" y1="893.94" x2="138.71" y2="895.18" stroke="#2a2a2a" stroke-width="0.9" />
<line x1="110.24" y1="895.62" x2="138.71" y2="896.85" stroke="#b9b9b9" stroke-width="0.7" opacity=".8"/>
<polygon points="108.56,905.91 137.37,907.58 137.37,915.62 108.9,913.61" fill="#5a5a5a" />
<polygon points="108.9,915.62 137.37,917.63 137.37,925.33 109.23,922.32" fill="#555" />
<line x1="104.21" y1="904.23" x2="138.71" y2="905.91" stroke="#1a1a1a" stroke-width="1" />
<polygon points="123.64,842.78 138.71,841.44 138.71,888.83 123.64,878.78" fill="#a8a8a8" opacity=".28"/>
<line x1="104.88" y1="845.29" x2="105.38" y2="922.66" stroke="#f2f2f2" stroke-width="0.9" />
<line x1="106.89" y1="847.8" x2="109.57" y2="849.14" stroke="#c9b64a" stroke-width="0.9" />
<line x1="106.89" y1="851.99" x2="109.57" y2="853.33" stroke="#c9b64a" stroke-width="0.9" />
<line x1="106.89" y1="856.17" x2="109.57" y2="857.51" stroke="#c9b64a" stroke-width="0.9" />
<line x1="106.89" y1="860.36" x2="109.57" y2="861.7" stroke="#c9b64a" stroke-width="0.9" />
<line x1="106.89" y1="864.55" x2="109.57" y2="865.89" stroke="#c9b64a" stroke-width="0.9" />
<line x1="106.89" y1="868.73" x2="109.57" y2="870.07" stroke="#c9b64a" stroke-width="0.9" />
<line x1="106.89" y1="872.92" x2="109.57" y2="874.26" stroke="#c9b64a" stroke-width="0.9" />
<line x1="106.89" y1="877.11" x2="109.57" y2="878.44" stroke="#c9b64a" stroke-width="0.9" />
<line x1="106.89" y1="881.29" x2="109.57" y2="882.63" stroke="#c9b64a" stroke-width="0.9" />
<line x1="106.89" y1="885.48" x2="109.57" y2="886.82" stroke="#c9b64a" stroke-width="0.9" />
<line x1="106.89" y1="889.67" x2="109.57" y2="891.0" stroke="#c9b64a" stroke-width="0.9" />
<line x1="106.89" y1="893.85" x2="109.57" y2="895.19" stroke="#c9b64a" stroke-width="0.9" />
<line x1="106.89" y1="898.04" x2="109.57" y2="899.38" stroke="#c9b64a" stroke-width="0.9" />
<rect x="136.36" y="876.77" width="2.35" height="15.41" rx="0.5" fill="#1a1a1a" stroke="#9a9a9a" stroke-width=".4"/></g>
<g filter="url(#b3)" transform="translate(0,0)"><polygon points="102.7,929.35 143.73,934.38 162.15,926.51 160.48,925.33 143.73,932.7 103.88,928.35" fill="#b8b8b8" opacity=".8"/>
<polygon points="142.89,834.9 162.99,842.78 162.49,924.33 142.89,932.37" fill="#5e5e5e" />
<polygon points="144.57,840.26 161.32,846.63 160.98,872.08 144.57,872.08" fill="#8a8a8a" opacity=".75"/>
<polygon points="144.57,872.08 160.98,872.08 160.81,921.48 144.57,928.18" fill="#1b1b1b" />
<polygon points="144.57,872.08 153.78,872.08 160.98,878.78 160.98,872.08" fill="#3a3a3a" />
<line x1="145.07" y1="843.61" x2="160.48" y2="849.64" stroke="#5a5a5a" stroke-width="0.5" />
<line x1="145.07" y1="849.31" x2="160.48" y2="855.33" stroke="#5a5a5a" stroke-width="0.5" />
<line x1="145.07" y1="855.0" x2="160.48" y2="861.03" stroke="#5a5a5a" stroke-width="0.5" />
<line x1="145.07" y1="860.69" x2="160.48" y2="866.72" stroke="#5a5a5a" stroke-width="0.5" />
<line x1="145.07" y1="866.39" x2="160.48" y2="872.42" stroke="#5a5a5a" stroke-width="0.5" />
<polygon points="99.35,839.43 142.89,834.9 142.89,932.37 99.86,927.68" fill="#2b2b2b" />
<polygon points="99.35,838.92 142.89,834.4 143.23,835.74 99.52,840.26" fill="#d8d8d8" />
<polygon points="142.89,834.4 162.99,842.44 162.82,843.61 142.89,835.74" fill="#9a9a9a" />
<polygon points="103.88,844.62 138.71,841.44 138.71,900.55 104.21,898.88" fill="#7f7f7f" />
<polygon points="104.21,898.88 138.71,900.55 138.71,926.67 104.55,922.66" fill="#3d3d3d" />
<line x1="103.88" y1="844.62" x2="138.71" y2="841.44" stroke="#2a2a2a" stroke-width="0.9" />
<line x1="110.24" y1="846.29" x2="138.71" y2="843.11" stroke="#b9b9b9" stroke-width="0.7" opacity=".8"/>
<line x1="103.88" y1="849.55" x2="138.71" y2="846.81" stroke="#2a2a2a" stroke-width="0.9" />
<line x1="110.24" y1="851.22" x2="138.71" y2="848.48" stroke="#b9b9b9" stroke-width="0.7" opacity=".8"/>
<line x1="103.88" y1="854.48" x2="138.71" y2="852.18" stroke="#2a2a2a" stroke-width="0.9" />
<line x1="110.24" y1="856.16" x2="138.71" y2="853.86" stroke="#b9b9b9" stroke-width="0.7" opacity=".8"/>
<line x1="103.88" y1="859.41" x2="138.71" y2="857.56" stroke="#2a2a2a" stroke-width="0.9" />
<line x1="110.24" y1="861.09" x2="138.71" y2="859.23" stroke="#b9b9b9" stroke-width="0.7" opacity=".8"/>
<line x1="103.88" y1="864.35" x2="138.71" y2="862.93" stroke="#2a2a2a" stroke-width="0.9" />
<line x1="110.24" y1="866.02" x2="138.71" y2="864.61" stroke="#b9b9b9" stroke-width="0.7" opacity=".8"/>
<line x1="103.88" y1="869.28" x2="138.71" y2="868.31" stroke="#2a2a2a" stroke-width="0.9" />
<line x1="110.24" y1="870.95" x2="138.71" y2="869.98" stroke="#b9b9b9" stroke-width="0.7" opacity=".8"/>
<line x1="103.88" y1="874.21" x2="138.71" y2="873.68" stroke="#2a2a2a" stroke-width="0.9" />
<line x1="110.24" y1="875.89" x2="138.71" y2="875.35" stroke="#b9b9b9" stroke-width="0.7" opacity=".8"/>
<line x1="103.88" y1="879.15" x2="138.71" y2="879.05" stroke="#2a2a2a" stroke-width="0.9" />
<line x1="110.24" y1="880.82" x2="138.71" y2="880.73" stroke="#b9b9b9" stroke-width="0.7" opacity=".8"/>
<line x1="103.88" y1="884.08" x2="138.71" y2="884.43" stroke="#2a2a2a" stroke-width="0.9" />
<line x1="110.24" y1="885.75" x2="138.71" y2="886.1" stroke="#b9b9b9" stroke-width="0.7" opacity=".8"/>
<line x1="103.88" y1="889.01" x2="138.71" y2="889.8" stroke="#2a2a2a" stroke-width="0.9" />
<line x1="110.24" y1="890.69" x2="138.71" y2="891.48" stroke="#b9b9b9" stroke-width="0.7" opacity=".8"/>
<line x1="103.88" y1="893.94" x2="138.71" y2="895.18" stroke="#2a2a2a" stroke-width="0.9" />
<line x1="110.24" y1="895.62" x2="138.71" y2="896.85" stroke="#b9b9b9" stroke-width="0.7" opacity=".8"/>
<polygon points="108.56,905.91 137.37,907.58 137.37,915.62 108.9,913.61" fill="#5a5a5a" />
<polygon points="108.9,915.62 137.37,917.63 137.37,925.33 109.23,922.32" fill="#555" />
<line x1="104.21" y1="904.23" x2="138.71" y2="905.91" stroke="#1a1a1a" stroke-width="1" />
<polygon points="123.64,842.78 138.71,841.44 138.71,888.83 123.64,878.78" fill="#a8a8a8" opacity=".28"/>
<line x1="104.88" y1="845.29" x2="105.38" y2="922.66" stroke="#f2f2f2" stroke-width="0.9" />
<line x1="106.89" y1="847.8" x2="109.57" y2="849.14" stroke="#c9b64a" stroke-width="0.9" />
<line x1="106.89" y1="851.99" x2="109.57" y2="853.33" stroke="#c9b64a" stroke-width="0.9" />
<line x1="106.89" y1="856.17" x2="109.57" y2="857.51" stroke="#c9b64a" stroke-width="0.9" />
<line x1="106.89" y1="860.36" x2="109.57" y2="861.7" stroke="#c9b64a" stroke-width="0.9" />
<line x1="106.89" y1="864.55" x2="109.57" y2="865.89" stroke="#c9b64a" stroke-width="0.9" />
<line x1="106.89" y1="868.73" x2="109.57" y2="870.07" stroke="#c9b64a" stroke-width="0.9" />
<line x1="106.89" y1="872.92" x2="109.57" y2="874.26" stroke="#c9b64a" stroke-width="0.9" />
<line x1="106.89" y1="877.11" x2="109.57" y2="878.44" stroke="#c9b64a" stroke-width="0.9" />
<line x1="106.89" y1="881.29" x2="109.57" y2="882.63" stroke="#c9b64a" stroke-width="0.9" />
<line x1="106.89" y1="885.48" x2="109.57" y2="886.82" stroke="#c9b64a" stroke-width="0.9" />
<line x1="106.89" y1="889.67" x2="109.57" y2="891.0" stroke="#c9b64a" stroke-width="0.9" />
<line x1="106.89" y1="893.85" x2="109.57" y2="895.19" stroke="#c9b64a" stroke-width="0.9" />
<line x1="106.89" y1="898.04" x2="109.57" y2="899.38" stroke="#c9b64a" stroke-width="0.9" />
<rect x="136.36" y="876.77" width="2.35" height="15.41" rx="0.5" fill="#1a1a1a" stroke="#9a9a9a" stroke-width=".4"/></g>
<g filter="url(#b3)" transform="translate(180.0,-19.8) translate(99,834) scale(.97) translate(-99,-834)"><polygon points="102.7,929.35 143.73,934.38 162.15,926.51 160.48,925.33 143.73,932.7 103.88,928.35" fill="#b8b8b8" opacity=".8"/>
<polygon points="142.89,834.9 162.99,842.78 162.49,924.33 142.89,932.37" fill="#5e5e5e" />
<polygon points="144.57,840.26 161.32,846.63 160.98,872.08 144.57,872.08" fill="#8a8a8a" opacity=".75"/>
<polygon points="144.57,872.08 160.98,872.08 160.81,921.48 144.57,928.18" fill="#1b1b1b" />
<polygon points="144.57,872.08 153.78,872.08 160.98,878.78 160.98,872.08" fill="#3a3a3a" />
<line x1="145.07" y1="843.61" x2="160.48" y2="849.64" stroke="#5a5a5a" stroke-width="0.5" />
<line x1="145.07" y1="849.31" x2="160.48" y2="855.33" stroke="#5a5a5a" stroke-width="0.5" />
<line x1="145.07" y1="855.0" x2="160.48" y2="861.03" stroke="#5a5a5a" stroke-width="0.5" />
<line x1="145.07" y1="860.69" x2="160.48" y2="866.72" stroke="#5a5a5a" stroke-width="0.5" />
<line x1="145.07" y1="866.39" x2="160.48" y2="872.42" stroke="#5a5a5a" stroke-width="0.5" />
<polygon points="99.35,839.43 142.89,834.9 142.89,932.37 99.86,927.68" fill="#2b2b2b" />
<polygon points="99.35,838.92 142.89,834.4 143.23,835.74 99.52,840.26" fill="#d8d8d8" />
<polygon points="142.89,834.4 162.99,842.44 162.82,843.61 142.89,835.74" fill="#9a9a9a" />
<polygon points="103.88,844.62 138.71,841.44 138.71,900.55 104.21,898.88" fill="#7f7f7f" />
<polygon points="104.21,898.88 138.71,900.55 138.71,926.67 104.55,922.66" fill="#3d3d3d" />
<line x1="103.88" y1="844.62" x2="138.71" y2="841.44" stroke="#2a2a2a" stroke-width="0.9" />
<line x1="110.24" y1="846.29" x2="138.71" y2="843.11" stroke="#b9b9b9" stroke-width="0.7" opacity=".8"/>
<line x1="103.88" y1="849.55" x2="138.71" y2="846.81" stroke="#2a2a2a" stroke-width="0.9" />
<line x1="110.24" y1="851.22" x2="138.71" y2="848.48" stroke="#b9b9b9" stroke-width="0.7" opacity=".8"/>
<line x1="103.88" y1="854.48" x2="138.71" y2="852.18" stroke="#2a2a2a" stroke-width="0.9" />
<line x1="110.24" y1="856.16" x2="138.71" y2="853.86" stroke="#b9b9b9" stroke-width="0.7" opacity=".8"/>
<line x1="103.88" y1="859.41" x2="138.71" y2="857.56" stroke="#2a2a2a" stroke-width="0.9" />
<line x1="110.24" y1="861.09" x2="138.71" y2="859.23" stroke="#b9b9b9" stroke-width="0.7" opacity=".8"/>
<line x1="103.88" y1="864.35" x2="138.71" y2="862.93" stroke="#2a2a2a" stroke-width="0.9" />
<line x1="110.24" y1="866.02" x2="138.71" y2="864.61" stroke="#b9b9b9" stroke-width="0.7" opacity=".8"/>
<line x1="103.88" y1="869.28" x2="138.71" y2="868.31" stroke="#2a2a2a" stroke-width="0.9" />
<line x1="110.24" y1="870.95" x2="138.71" y2="869.98" stroke="#b9b9b9" stroke-width="0.7" opacity=".8"/>
<line x1="103.88" y1="874.21" x2="138.71" y2="873.68" stroke="#2a2a2a" stroke-width="0.9" />
<line x1="110.24" y1="875.89" x2="138.71" y2="875.35" stroke="#b9b9b9" stroke-width="0.7" opacity=".8"/>
<line x1="103.88" y1="879.15" x2="138.71" y2="879.05" stroke="#2a2a2a" stroke-width="0.9" />
<line x1="110.24" y1="880.82" x2="138.71" y2="880.73" stroke="#b9b9b9" stroke-width="0.7" opacity=".8"/>
<line x1="103.88" y1="884.08" x2="138.71" y2="884.43" stroke="#2a2a2a" stroke-width="0.9" />
<line x1="110.24" y1="885.75" x2="138.71" y2="886.1" stroke="#b9b9b9" stroke-width="0.7" opacity=".8"/>
<line x1="103.88" y1="889.01" x2="138.71" y2="889.8" stroke="#2a2a2a" stroke-width="0.9" />
<line x1="110.24" y1="890.69" x2="138.71" y2="891.48" stroke="#b9b9b9" stroke-width="0.7" opacity=".8"/>
<line x1="103.88" y1="893.94" x2="138.71" y2="895.18" stroke="#2a2a2a" stroke-width="0.9" />
<line x1="110.24" y1="895.62" x2="138.71" y2="896.85" stroke="#b9b9b9" stroke-width="0.7" opacity=".8"/>
<polygon points="108.56,905.91 137.37,907.58 137.37,915.62 108.9,913.61" fill="#5a5a5a" />
<polygon points="108.9,915.62 137.37,917.63 137.37,925.33 109.23,922.32" fill="#555" />
<line x1="104.21" y1="904.23" x2="138.71" y2="905.91" stroke="#1a1a1a" stroke-width="1" />
<polygon points="123.64,842.78 138.71,841.44 138.71,888.83 123.64,878.78" fill="#a8a8a8" opacity=".28"/>
<line x1="104.88" y1="845.29" x2="105.38" y2="922.66" stroke="#f2f2f2" stroke-width="0.9" />
<line x1="106.89" y1="847.8" x2="109.57" y2="849.14" stroke="#c9b64a" stroke-width="0.9" />
<line x1="106.89" y1="851.99" x2="109.57" y2="853.33" stroke="#c9b64a" stroke-width="0.9" />
<line x1="106.89" y1="856.17" x2="109.57" y2="857.51" stroke="#c9b64a" stroke-width="0.9" />
<line x1="106.89" y1="860.36" x2="109.57" y2="861.7" stroke="#c9b64a" stroke-width="0.9" />
<line x1="106.89" y1="864.55" x2="109.57" y2="865.89" stroke="#c9b64a" stroke-width="0.9" />
<line x1="106.89" y1="868.73" x2="109.57" y2="870.07" stroke="#c9b64a" stroke-width="0.9" />
<line x1="106.89" y1="872.92" x2="109.57" y2="874.26" stroke="#c9b64a" stroke-width="0.9" />
<line x1="106.89" y1="877.11" x2="109.57" y2="878.44" stroke="#c9b64a" stroke-width="0.9" />
<line x1="106.89" y1="881.29" x2="109.57" y2="882.63" stroke="#c9b64a" stroke-width="0.9" />
<line x1="106.89" y1="885.48" x2="109.57" y2="886.82" stroke="#c9b64a" stroke-width="0.9" />
<line x1="106.89" y1="889.67" x2="109.57" y2="891.0" stroke="#c9b64a" stroke-width="0.9" />
<line x1="106.89" y1="893.85" x2="109.57" y2="895.19" stroke="#c9b64a" stroke-width="0.9" />
<line x1="106.89" y1="898.04" x2="109.57" y2="899.38" stroke="#c9b64a" stroke-width="0.9" />
<rect x="136.36" y="876.77" width="2.35" height="15.41" rx="0.5" fill="#1a1a1a" stroke="#9a9a9a" stroke-width=".4"/></g>
<g filter="url(#b3)" transform="translate(204.6,0)"><polygon points="102.7,929.35 143.73,934.38 162.15,926.51 160.48,925.33 143.73,932.7 103.88,928.35" fill="#b8b8b8" opacity=".8"/>
<polygon points="142.89,834.9 162.99,842.78 162.49,924.33 142.89,932.37" fill="#5e5e5e" />
<polygon points="144.57,840.26 161.32,846.63 160.98,872.08 144.57,872.08" fill="#8a8a8a" opacity=".75"/>
<polygon points="144.57,872.08 160.98,872.08 160.81,921.48 144.57,928.18" fill="#1b1b1b" />
<polygon points="144.57,872.08 153.78,872.08 160.98,878.78 160.98,872.08" fill="#3a3a3a" />
<line x1="145.07" y1="843.61" x2="160.48" y2="849.64" stroke="#5a5a5a" stroke-width="0.5" />
<line x1="145.07" y1="849.31" x2="160.48" y2="855.33" stroke="#5a5a5a" stroke-width="0.5" />
<line x1="145.07" y1="855.0" x2="160.48" y2="861.03" stroke="#5a5a5a" stroke-width="0.5" />
<line x1="145.07" y1="860.69" x2="160.48" y2="866.72" stroke="#5a5a5a" stroke-width="0.5" />
<line x1="145.07" y1="866.39" x2="160.48" y2="872.42" stroke="#5a5a5a" stroke-width="0.5" />
<polygon points="99.35,839.43 142.89,834.9 142.89,932.37 99.86,927.68" fill="#2b2b2b" />
<polygon points="99.35,838.92 142.89,834.4 143.23,835.74 99.52,840.26" fill="#d8d8d8" />
<polygon points="142.89,834.4 162.99,842.44 162.82,843.61 142.89,835.74" fill="#9a9a9a" />
<polygon points="103.88,844.62 138.71,841.44 138.71,900.55 104.21,898.88" fill="#7f7f7f" />
<polygon points="104.21,898.88 138.71,900.55 138.71,926.67 104.55,922.66" fill="#3d3d3d" />
<line x1="103.88" y1="844.62" x2="138.71" y2="841.44" stroke="#2a2a2a" stroke-width="0.9" />
<line x1="110.24" y1="846.29" x2="138.71" y2="843.11" stroke="#b9b9b9" stroke-width="0.7" opacity=".8"/>
<line x1="103.88" y1="849.55" x2="138.71" y2="846.81" stroke="#2a2a2a" stroke-width="0.9" />
<line x1="110.24" y1="851.22" x2="138.71" y2="848.48" stroke="#b9b9b9" stroke-width="0.7" opacity=".8"/>
<line x1="103.88" y1="854.48" x2="138.71" y2="852.18" stroke="#2a2a2a" stroke-width="0.9" />
<line x1="110.24" y1="856.16" x2="138.71" y2="853.86" stroke="#b9b9b9" stroke-width="0.7" opacity=".8"/>
<line x1="103.88" y1="859.41" x2="138.71" y2="857.56" stroke="#2a2a2a" stroke-width="0.9" />
<line x1="110.24" y1="861.09" x2="138.71" y2="859.23" stroke="#b9b9b9" stroke-width="0.7" opacity=".8"/>
<line x1="103.88" y1="864.35" x2="138.71" y2="862.93" stroke="#2a2a2a" stroke-width="0.9" />
<line x1="110.24" y1="866.02" x2="138.71" y2="864.61" stroke="#b9b9b9" stroke-width="0.7" opacity=".8"/>
<line x1="103.88" y1="869.28" x2="138.71" y2="868.31" stroke="#2a2a2a" stroke-width="0.9" />
<line x1="110.24" y1="870.95" x2="138.71" y2="869.98" stroke="#b9b9b9" stroke-width="0.7" opacity=".8"/>
<line x1="103.88" y1="874.21" x2="138.71" y2="873.68" stroke="#2a2a2a" stroke-width="0.9" />
<line x1="110.24" y1="875.89" x2="138.71" y2="875.35" stroke="#b9b9b9" stroke-width="0.7" opacity=".8"/>
<line x1="103.88" y1="879.15" x2="138.71" y2="879.05" stroke="#2a2a2a" stroke-width="0.9" />
<line x1="110.24" y1="880.82" x2="138.71" y2="880.73" stroke="#b9b9b9" stroke-width="0.7" opacity=".8"/>
<line x1="103.88" y1="884.08" x2="138.71" y2="884.43" stroke="#2a2a2a" stroke-width="0.9" />
<line x1="110.24" y1="885.75" x2="138.71" y2="886.1" stroke="#b9b9b9" stroke-width="0.7" opacity=".8"/>
<line x1="103.88" y1="889.01" x2="138.71" y2="889.8" stroke="#2a2a2a" stroke-width="0.9" />
<line x1="110.24" y1="890.69" x2="138.71" y2="891.48" stroke="#b9b9b9" stroke-width="0.7" opacity=".8"/>
<line x1="103.88" y1="893.94" x2="138.71" y2="895.18" stroke="#2a2a2a" stroke-width="0.9" />
<line x1="110.24" y1="895.62" x2="138.71" y2="896.85" stroke="#b9b9b9" stroke-width="0.7" opacity=".8"/>
<polygon points="108.56,905.91 137.37,907.58 137.37,915.62 108.9,913.61" fill="#5a5a5a" />
<polygon points="108.9,915.62 137.37,917.63 137.37,925.33 109.23,922.32" fill="#555" />
<line x1="104.21" y1="904.23" x2="138.71" y2="905.91" stroke="#1a1a1a" stroke-width="1" />
<polygon points="123.64,842.78 138.71,841.44 138.71,888.83 123.64,878.78" fill="#a8a8a8" opacity=".28"/>
<line x1="104.88" y1="845.29" x2="105.38" y2="922.66" stroke="#f2f2f2" stroke-width="0.9" />
<line x1="106.89" y1="847.8" x2="109.57" y2="849.14" stroke="#c9b64a" stroke-width="0.9" />
<line x1="106.89" y1="851.99" x2="109.57" y2="853.33" stroke="#c9b64a" stroke-width="0.9" />
<line x1="106.89" y1="856.17" x2="109.57" y2="857.51" stroke="#c9b64a" stroke-width="0.9" />
<line x1="106.89" y1="860.36" x2="109.57" y2="861.7" stroke="#c9b64a" stroke-width="0.9" />
<line x1="106.89" y1="864.55" x2="109.57" y2="865.89" stroke="#c9b64a" stroke-width="0.9" />
<line x1="106.89" y1="868.73" x2="109.57" y2="870.07" stroke="#c9b64a" stroke-width="0.9" />
<line x1="106.89" y1="872.92" x2="109.57" y2="874.26" stroke="#c9b64a" stroke-width="0.9" />
<line x1="106.89" y1="877.11" x2="109.57" y2="878.44" stroke="#c9b64a" stroke-width="0.9" />
<line x1="106.89" y1="881.29" x2="109.57" y2="882.63" stroke="#c9b64a" stroke-width="0.9" />
<line x1="106.89" y1="885.48" x2="109.57" y2="886.82" stroke="#c9b64a" stroke-width="0.9" />
<line x1="106.89" y1="889.67" x2="109.57" y2="891.0" stroke="#c9b64a" stroke-width="0.9" />
<line x1="106.89" y1="893.85" x2="109.57" y2="895.19" stroke="#c9b64a" stroke-width="0.9" />
<line x1="106.89" y1="898.04" x2="109.57" y2="899.38" stroke="#c9b64a" stroke-width="0.9" />
<rect x="136.36" y="876.77" width="2.35" height="15.41" rx="0.5" fill="#1a1a1a" stroke="#9a9a9a" stroke-width=".4"/></g>
<g filter="url(#b3)" transform="translate(383.0,-19.8) translate(99,834) scale(.97) translate(-99,-834)"><polygon points="102.7,929.35 143.73,934.38 162.15,926.51 160.48,925.33 143.73,932.7 103.88,928.35" fill="#b8b8b8" opacity=".8"/>
<polygon points="142.89,834.9 162.99,842.78 162.49,924.33 142.89,932.37" fill="#5e5e5e" />
<polygon points="144.57,840.26 161.32,846.63 160.98,872.08 144.57,872.08" fill="#8a8a8a" opacity=".75"/>
<polygon points="144.57,872.08 160.98,872.08 160.81,921.48 144.57,928.18" fill="#1b1b1b" />
<polygon points="144.57,872.08 153.78,872.08 160.98,878.78 160.98,872.08" fill="#3a3a3a" />
<line x1="145.07" y1="843.61" x2="160.48" y2="849.64" stroke="#5a5a5a" stroke-width="0.5" />
<line x1="145.07" y1="849.31" x2="160.48" y2="855.33" stroke="#5a5a5a" stroke-width="0.5" />
<line x1="145.07" y1="855.0" x2="160.48" y2="861.03" stroke="#5a5a5a" stroke-width="0.5" />
<line x1="145.07" y1="860.69" x2="160.48" y2="866.72" stroke="#5a5a5a" stroke-width="0.5" />
<line x1="145.07" y1="866.39" x2="160.48" y2="872.42" stroke="#5a5a5a" stroke-width="0.5" />
<polygon points="99.35,839.43 142.89,834.9 142.89,932.37 99.86,927.68" fill="#2b2b2b" />
<polygon points="99.35,838.92 142.89,834.4 143.23,835.74 99.52,840.26" fill="#d8d8d8" />
<polygon points="142.89,834.4 162.99,842.44 162.82,843.61 142.89,835.74" fill="#9a9a9a" />
<polygon points="103.88,844.62 138.71,841.44 138.71,900.55 104.21,898.88" fill="#7f7f7f" />
<polygon points="104.21,898.88 138.71,900.55 138.71,926.67 104.55,922.66" fill="#3d3d3d" />
<line x1="103.88" y1="844.62" x2="138.71" y2="841.44" stroke="#2a2a2a" stroke-width="0.9" />
<line x1="110.24" y1="846.29" x2="138.71" y2="843.11" stroke="#b9b9b9" stroke-width="0.7" opacity=".8"/>
<line x1="103.88" y1="849.55" x2="138.71" y2="846.81" stroke="#2a2a2a" stroke-width="0.9" />
<line x1="110.24" y1="851.22" x2="138.71" y2="848.48" stroke="#b9b9b9" stroke-width="0.7" opacity=".8"/>
<line x1="103.88" y1="854.48" x2="138.71" y2="852.18" stroke="#2a2a2a" stroke-width="0.9" />
<line x1="110.24" y1="856.16" x2="138.71" y2="853.86" stroke="#b9b9b9" stroke-width="0.7" opacity=".8"/>
<line x1="103.88" y1="859.41" x2="138.71" y2="857.56" stroke="#2a2a2a" stroke-width="0.9" />
<line x1="110.24" y1="861.09" x2="138.71" y2="859.23" stroke="#b9b9b9" stroke-width="0.7" opacity=".8"/>
<line x1="103.88" y1="864.35" x2="138.71" y2="862.93" stroke="#2a2a2a" stroke-width="0.9" />
<line x1="110.24" y1="866.02" x2="138.71" y2="864.61" stroke="#b9b9b9" stroke-width="0.7" opacity=".8"/>
<line x1="103.88" y1="869.28" x2="138.71" y2="868.31" stroke="#2a2a2a" stroke-width="0.9" />
<line x1="110.24" y1="870.95" x2="138.71" y2="869.98" stroke="#b9b9b9" stroke-width="0.7" opacity=".8"/>
<line x1="103.88" y1="874.21" x2="138.71" y2="873.68" stroke="#2a2a2a" stroke-width="0.9" />
<line x1="110.24" y1="875.89" x2="138.71" y2="875.35" stroke="#b9b9b9" stroke-width="0.7" opacity=".8"/>
<line x1="103.88" y1="879.15" x2="138.71" y2="879.05" stroke="#2a2a2a" stroke-width="0.9" />
<line x1="110.24" y1="880.82" x2="138.71" y2="880.73" stroke="#b9b9b9" stroke-width="0.7" opacity=".8"/>
<line x1="103.88" y1="884.08" x2="138.71" y2="884.43" stroke="#2a2a2a" stroke-width="0.9" />
<line x1="110.24" y1="885.75" x2="138.71" y2="886.1" stroke="#b9b9b9" stroke-width="0.7" opacity=".8"/>
<line x1="103.88" y1="889.01" x2="138.71" y2="889.8" stroke="#2a2a2a" stroke-width="0.9" />
<line x1="110.24" y1="890.69" x2="138.71" y2="891.48" stroke="#b9b9b9" stroke-width="0.7" opacity=".8"/>
<line x1="103.88" y1="893.94" x2="138.71" y2="895.18" stroke="#2a2a2a" stroke-width="0.9" />
<line x1="110.24" y1="895.62" x2="138.71" y2="896.85" stroke="#b9b9b9" stroke-width="0.7" opacity=".8"/>
<polygon points="108.56,905.91 137.37,907.58 137.37,915.62 108.9,913.61" fill="#5a5a5a" />
<polygon points="108.9,915.62 137.37,917.63 137.37,925.33 109.23,922.32" fill="#555" />
<line x1="104.21" y1="904.23" x2="138.71" y2="905.91" stroke="#1a1a1a" stroke-width="1" />
<polygon points="123.64,842.78 138.71,841.44 138.71,888.83 123.64,878.78" fill="#a8a8a8" opacity=".28"/>
<line x1="104.88" y1="845.29" x2="105.38" y2="922.66" stroke="#f2f2f2" stroke-width="0.9" />
<line x1="106.89" y1="847.8" x2="109.57" y2="849.14" stroke="#c9b64a" stroke-width="0.9" />
<line x1="106.89" y1="851.99" x2="109.57" y2="853.33" stroke="#c9b64a" stroke-width="0.9" />
<line x1="106.89" y1="856.17" x2="109.57" y2="857.51" stroke="#c9b64a" stroke-width="0.9" />
<line x1="106.89" y1="860.36" x2="109.57" y2="861.7" stroke="#c9b64a" stroke-width="0.9" />
<line x1="106.89" y1="864.55" x2="109.57" y2="865.89" stroke="#c9b64a" stroke-width="0.9" />
<line x1="106.89" y1="868.73" x2="109.57" y2="870.07" stroke="#c9b64a" stroke-width="0.9" />
<line x1="106.89" y1="872.92" x2="109.57" y2="874.26" stroke="#c9b64a" stroke-width="0.9" />
<line x1="106.89" y1="877.11" x2="109.57" y2="878.44" stroke="#c9b64a" stroke-width="0.9" />
<line x1="106.89" y1="881.29" x2="109.57" y2="882.63" stroke="#c9b64a" stroke-width="0.9" />
<line x1="106.89" y1="885.48" x2="109.57" y2="886.82" stroke="#c9b64a" stroke-width="0.9" />
<line x1="106.89" y1="889.67" x2="109.57" y2="891.0" stroke="#c9b64a" stroke-width="0.9" />
<line x1="106.89" y1="893.85" x2="109.57" y2="895.19" stroke="#c9b64a" stroke-width="0.9" />
<line x1="106.89" y1="898.04" x2="109.57" y2="899.38" stroke="#c9b64a" stroke-width="0.9" />
<rect x="136.36" y="876.77" width="2.35" height="15.41" rx="0.5" fill="#1a1a1a" stroke="#9a9a9a" stroke-width=".4"/></g>
<g filter="url(#b3)" transform="translate(407.6,0)"><polygon points="102.7,929.35 143.73,934.38 162.15,926.51 160.48,925.33 143.73,932.7 103.88,928.35" fill="#b8b8b8" opacity=".8"/>
<polygon points="142.89,834.9 162.99,842.78 162.49,924.33 142.89,932.37" fill="#5e5e5e" />
<polygon points="144.57,840.26 161.32,846.63 160.98,872.08 144.57,872.08" fill="#8a8a8a" opacity=".75"/>
<polygon points="144.57,872.08 160.98,872.08 160.81,921.48 144.57,928.18" fill="#1b1b1b" />
<polygon points="144.57,872.08 153.78,872.08 160.98,878.78 160.98,872.08" fill="#3a3a3a" />
<line x1="145.07" y1="843.61" x2="160.48" y2="849.64" stroke="#5a5a5a" stroke-width="0.5" />
<line x1="145.07" y1="849.31" x2="160.48" y2="855.33" stroke="#5a5a5a" stroke-width="0.5" />
<line x1="145.07" y1="855.0" x2="160.48" y2="861.03" stroke="#5a5a5a" stroke-width="0.5" />
<line x1="145.07" y1="860.69" x2="160.48" y2="866.72" stroke="#5a5a5a" stroke-width="0.5" />
<line x1="145.07" y1="866.39" x2="160.48" y2="872.42" stroke="#5a5a5a" stroke-width="0.5" />
<polygon points="99.35,839.43 142.89,834.9 142.89,932.37 99.86,927.68" fill="#2b2b2b" />
<polygon points="99.35,838.92 142.89,834.4 143.23,835.74 99.52,840.26" fill="#d8d8d8" />
<polygon points="142.89,834.4 162.99,842.44 162.82,843.61 142.89,835.74" fill="#9a9a9a" />
<polygon points="103.88,844.62 138.71,841.44 138.71,900.55 104.21,898.88" fill="#7f7f7f" />
<polygon points="104.21,898.88 138.71,900.55 138.71,926.67 104.55,922.66" fill="#3d3d3d" />
<line x1="103.88" y1="844.62" x2="138.71" y2="841.44" stroke="#2a2a2a" stroke-width="0.9" />
<line x1="110.24" y1="846.29" x2="138.71" y2="843.11" stroke="#b9b9b9" stroke-width="0.7" opacity=".8"/>
<line x1="103.88" y1="849.55" x2="138.71" y2="846.81" stroke="#2a2a2a" stroke-width="0.9" />
<line x1="110.24" y1="851.22" x2="138.71" y2="848.48" stroke="#b9b9b9" stroke-width="0.7" opacity=".8"/>
<line x1="103.88" y1="854.48" x2="138.71" y2="852.18" stroke="#2a2a2a" stroke-width="0.9" />
<line x1="110.24" y1="856.16" x2="138.71" y2="853.86" stroke="#b9b9b9" stroke-width="0.7" opacity=".8"/>
<line x1="103.88" y1="859.41" x2="138.71" y2="857.56" stroke="#2a2a2a" stroke-width="0.9" />
<line x1="110.24" y1="861.09" x2="138.71" y2="859.23" stroke="#b9b9b9" stroke-width="0.7" opacity=".8"/>
<line x1="103.88" y1="864.35" x2="138.71" y2="862.93" stroke="#2a2a2a" stroke-width="0.9" />
<line x1="110.24" y1="866.02" x2="138.71" y2="864.61" stroke="#b9b9b9" stroke-width="0.7" opacity=".8"/>
<line x1="103.88" y1="869.28" x2="138.71" y2="868.31" stroke="#2a2a2a" stroke-width="0.9" />
<line x1="110.24" y1="870.95" x2="138.71" y2="869.98" stroke="#b9b9b9" stroke-width="0.7" opacity=".8"/>
<line x1="103.88" y1="874.21" x2="138.71" y2="873.68" stroke="#2a2a2a" stroke-width="0.9" />
<line x1="110.24" y1="875.89" x2="138.71" y2="875.35" stroke="#b9b9b9" stroke-width="0.7" opacity=".8"/>
<line x1="103.88" y1="879.15" x2="138.71" y2="879.05" stroke="#2a2a2a" stroke-width="0.9" />
<line x1="110.24" y1="880.82" x2="138.71" y2="880.73" stroke="#b9b9b9" stroke-width="0.7" opacity=".8"/>
<line x1="103.88" y1="884.08" x2="138.71" y2="884.43" stroke="#2a2a2a" stroke-width="0.9" />
<line x1="110.24" y1="885.75" x2="138.71" y2="886.1" stroke="#b9b9b9" stroke-width="0.7" opacity=".8"/>
<line x1="103.88" y1="889.01" x2="138.71" y2="889.8" stroke="#2a2a2a" stroke-width="0.9" />
<line x1="110.24" y1="890.69" x2="138.71" y2="891.48" stroke="#b9b9b9" stroke-width="0.7" opacity=".8"/>
<line x1="103.88" y1="893.94" x2="138.71" y2="895.18" stroke="#2a2a2a" stroke-width="0.9" />
<line x1="110.24" y1="895.62" x2="138.71" y2="896.85" stroke="#b9b9b9" stroke-width="0.7" opacity=".8"/>
<polygon points="108.56,905.91 137.37,907.58 137.37,915.62 108.9,913.61" fill="#5a5a5a" />
<polygon points="108.9,915.62 137.37,917.63 137.37,925.33 109.23,922.32" fill="#555" />
<line x1="104.21" y1="904.23" x2="138.71" y2="905.91" stroke="#1a1a1a" stroke-width="1" />
<polygon points="123.64,842.78 138.71,841.44 138.71,888.83 123.64,878.78" fill="#a8a8a8" opacity=".28"/>
<line x1="104.88" y1="845.29" x2="105.38" y2="922.66" stroke="#f2f2f2" stroke-width="0.9" />
<line x1="106.89" y1="847.8" x2="109.57" y2="849.14" stroke="#c9b64a" stroke-width="0.9" />
<line x1="106.89" y1="851.99" x2="109.57" y2="853.33" stroke="#c9b64a" stroke-width="0.9" />
<line x1="106.89" y1="856.17" x2="109.57" y2="857.51" stroke="#c9b64a" stroke-width="0.9" />
<line x1="106.89" y1="860.36" x2="109.57" y2="861.7" stroke="#c9b64a" stroke-width="0.9" />
<line x1="106.89" y1="864.55" x2="109.57" y2="865.89" stroke="#c9b64a" stroke-width="0.9" />
<line x1="106.89" y1="868.73" x2="109.57" y2="870.07" stroke="#c9b64a" stroke-width="0.9" />
<line x1="106.89" y1="872.92" x2="109.57" y2="874.26" stroke="#c9b64a" stroke-width="0.9" />
<line x1="106.89" y1="877.11" x2="109.57" y2="878.44" stroke="#c9b64a" stroke-width="0.9" />
<line x1="106.89" y1="881.29" x2="109.57" y2="882.63" stroke="#c9b64a" stroke-width="0.9" />
<line x1="106.89" y1="885.48" x2="109.57" y2="886.82" stroke="#c9b64a" stroke-width="0.9" />
<line x1="106.89" y1="889.67" x2="109.57" y2="891.0" stroke="#c9b64a" stroke-width="0.9" />
<line x1="106.89" y1="893.85" x2="109.57" y2="895.19" stroke="#c9b64a" stroke-width="0.9" />
<line x1="106.89" y1="898.04" x2="109.57" y2="899.38" stroke="#c9b64a" stroke-width="0.9" />
<rect x="136.36" y="876.77" width="2.35" height="15.41" rx="0.5" fill="#1a1a1a" stroke="#9a9a9a" stroke-width=".4"/></g>
<g filter="url(#b5)">
<polygon points="732.44,826.84 732.79,847.57 801.9,933.62 948.77,869.69 947.04,864.85 802.94,927.05 735.9,845.5 735.55,826.49" fill="#62646c" filter="url(#b9)"/>
<polygon points="734.69,846.19 798.62,831.16 840.95,826.84 892.79,836.34 946.35,866.23 802.94,929.3" fill="url(#flr)" />
<polygon points="734.69,826.84 798.62,811.63 798.62,832.02 734.69,846.71" fill="url(#wl1)" />
<polygon points="739.35,830.64 743.15,829.77 743.15,841.52 739.35,842.39" fill="#fbfbfd" />
<polygon points="745.92,829.85 749.72,828.99 749.72,840.73 745.92,841.6" fill="#fbfbfd" />
<polygon points="752.48,829.06 756.29,828.2 756.29,839.95 752.48,840.81" fill="#fbfbfd" />
<polygon points="757.32,828.48 761.12,827.62 761.12,839.37 757.32,840.23" fill="#fbfbfd" />
<polygon points="798.62,792.28 851.32,783.98 851.32,800.92 798.62,811.63" fill="url(#wl2)" />
<polygon points="851.32,783.98 892.79,800.05 892.79,818.2 851.32,800.92" fill="url(#wl3)" />
<rect x="808.12" y="794.35" width="24.19" height="6.57" fill="#eef0f6" transform="skewY(-9)" transform-origin="808.12 797.46"/>
<line x1="808.98" y1="799.19" x2="831.97" y2="795.39" stroke="#2a57a8" stroke-width="1.6" />
<rect x="839.22" y="792.28" width="2.42" height="9.5" fill="#fbfbfd" />
<rect x="843.54" y="791.59" width="2.42" height="9.5" fill="#fbfbfd" />
<rect x="879.83" y="800.92" width="2.42" height="9.5" fill="#fbfbfd" />
<rect x="884.15" y="802.65" width="2.42" height="9.5" fill="#fbfbfd" />
<polygon points="801.21,810.42 851.32,799.54 890.19,815.6 837.49,830.64" fill="url(#blu)" />
<polygon points="801.21,810.42 837.49,830.64 837.49,834.61 801.21,814.4" fill="#7a9cc0" />
<polygon points="837.49,830.64 890.19,815.6 890.19,835.82 861.68,843.25 837.49,834.61" fill="#9fb6cf" />
<line x1="834.9" y1="826.84" x2="858.23" y2="821.31" stroke="#d9e8f8" stroke-width="1.2" />
<line x1="861.68" y1="820.27" x2="868.6" y2="818.54" stroke="#fff" stroke-width="1.2" />
<path d="M823.67 807.83L834.04 815.09L840.95 810.42L858.23 812.15L888.47 816.47L890.19 835.82" fill="none" stroke="#f0806a" stroke-width=".7"/>
<circle cx="823.67" cy="806.97" r="1.56" fill="#f4f6fa" />
<circle cx="842.68" cy="803.51" r="1.56" fill="#f4f6fa" />
<circle cx="854.77" cy="806.97" r="1.56" fill="#f4f6fa" />
<circle cx="835.77" cy="813.36" r="1.56" fill="#f4f6fa" />
<circle cx="860.82" cy="812.67" r="1.56" fill="#f4f6fa" />
<polygon points="892.79,817.33 946.35,837.55 946.35,866.58 892.79,837.2" fill="url(#wl4)" />
<polygon points="923.89,840.31 927,841.52 927,855 923.89,853.79" fill="#fbfbfd" />
<polygon points="929.42,842.39 932.53,843.6 932.53,857.07 929.42,855.86" fill="#fbfbfd" />
<polygon points="934.95,844.46 938.06,845.67 938.06,859.15 934.95,857.94" fill="#fbfbfd" />
<polygon points="939.78,846.53 942.89,847.74 942.89,861.22 939.78,860.01" fill="#fbfbfd" />
<polygon points="762.33,857.94 777.02,854.48 806.39,856.21 806.39,861.39 777.02,871.76 762.33,874.35" fill="#b4c6d8" opacity=".85"/>
<polygon points="861.68,856.21 887.6,871.76 887.6,888.17 861.68,874.35" fill="#a9bfd4" />
<polygon points="861.68,856.21 894.51,847.57 906.61,864.85 887.6,871.76" fill="#f4f6fa" opacity=".9"/>
<polygon points="801.21,825.11 827.13,826.84 827.13,833.75 801.21,832.88" fill="#8fa6bf" opacity=".8"/>
<polygon points="859.96,833.75 885.87,830.29 886.74,840.66 860.82,844.11" fill="#a2b6cc" opacity=".85"/>
<polygon points="763.2,843.25 801.21,840.66 809.85,851.03 771.84,856.21" fill="#f6f7fb" opacity=".9"/>
<path d="M766.65 844.11L777.02 849.64L801.21 842.04L813.3 848.43L828.86 854.83" fill="none" stroke="#f07a5e" stroke-width=".85" stroke-linejoin="round"/>
<path d="M761.47 857.94L767.52 863.98L806.39 854.14L828.86 855.86" fill="none" stroke="#f07a5e" stroke-width=".85" stroke-linejoin="round"/>
<path d="M785.66 876.08L788.25 870.9L816.76 862.26L830.58 856.21" fill="none" stroke="#f07a5e" stroke-width=".85" stroke-linejoin="round"/>
<path d="M840.95 853.62L863.41 844.11L890.19 837.2" fill="none" stroke="#f07a5e" stroke-width=".85" stroke-linejoin="round"/>
<path d="M840.95 856.21L861.68 858.8L882.42 851.89" fill="none" stroke="#f07a5e" stroke-width=".85" stroke-linejoin="round"/>
<path d="M864.28 862.26L880.69 873.49L894.51 869.69" fill="none" stroke="#f07a5e" stroke-width=".85" stroke-linejoin="round"/>
<path d="M819.35 832.88L834.04 844.11L834.04 852.75" fill="none" stroke="#f07a5e" stroke-width=".85" stroke-linejoin="round"/>
<path d="M830.58 857.94L834.04 864.85" fill="none" stroke="#f07a5e" stroke-width=".85" stroke-linejoin="round"/>
<ellipse cx="834.9" cy="855.0" rx="7.95" ry="3.28" fill="#f4582c" />
<rect x="832.31" y="843.25" width="6.91" height="10.37" fill="#70809a" />
<rect x="833.17" y="839.28" width="5.19" height="3.97" fill="#c8d4e4" />
<rect x="832.31" y="862.26" width="5.53" height="5.18" fill="#9aa8bc" />
<polygon points="786.52,877.81 794.3,874.35 815.38,898.54 813.3,903.73 806.39,904.24" fill="#17191d" />
<polygon points="787.73,878.67 791.71,876.94 809.85,898.54 807.26,901.13" fill="#6e7480" />
<polygon points="807.26,870.9 815.9,866.58 847,892.84 845.27,900.27 839.22,902" fill="#17191d" />
<polygon points="808.98,874.35 813.3,872.62 840.95,895.95 839.22,898.54" fill="#9aa0ac" />
<polygon points="806.39,898.54 815.03,898.02 815.38,902.86 807.26,904.24" fill="#d9dce4" />
<polygon points="838.36,895.95 847,892.84 847,898.54 840.09,902" fill="#d9dce4" />
<polygon points="777.02,864.85 784.79,862.26 786.52,869.17 778.75,874.35" fill="#2a2d33" />
<polygon points="793.43,863.12 801.21,860.53 802.94,865.71 795.16,869.69" fill="#2a2d33" />
<polygon points="801.21,857.94 808.98,855.86 810.19,862.26 802.59,864.85" fill="#3a3d44" />
<polygon points="755.42,852.75 764.06,850.68 765.27,854.83 756.63,857.59" fill="#3a3d44" />
<polygon points="759.74,839.28 770.11,836.34 771.84,841.52 761.47,844.11" fill="#2e3138" />
<polygon points="782.2,833.75 797.75,829.95 799.83,834.61 784.28,838.59" fill="#3a3d44" />
<polygon points="893.65,862.26 903.15,859.67 906.61,868.3 897.11,871.76" fill="#2a2d33" />
<polygon points="870.32,841.52 881.56,838.59 883.28,844.11 872.05,846.71" fill="#2e3138" />
<polygon points="806.05,908.91 814.17,907.18 815.03,914.09 806.74,916.68" fill="#8a8e98" />
<polygon points="768.03,851.03 773.91,849.64 774.95,854.14 769.07,855.86" fill="#8a8068" />
<polygon points="743.33,845.5 750.24,844.11 751.1,848.95 744.19,850.33" fill="#9a6a30" />
<polygon points="860.3,882.47 868.94,879.71 870.32,883.86 861.68,887.31" fill="#8a8068" />
<polygon points="907.47,843.77 914.38,845.5 914.38,850.68 907.47,848.95" fill="#f4f6fa" />
<polygon points="893.65,836.34 897.97,837.55 897.97,841.52 893.65,840.31" fill="#f4f6fa" />
<polygon points="881.56,847.57 888.47,844.98 889.33,851.03 882.42,853.1" fill="#50545c" />
<polygon points="894.86,861.05 903.15,858.97 905.75,863.98 897.62,866.58" fill="#eef0f4" />
<polygon points="778.4,863.47 784.28,861.74 785.66,866.23 779.61,868.3" fill="#dfe2e8" />
<polygon points="794.64,861.74 800.86,860.01 801.9,863.81 795.68,865.89" fill="#dfe2e8" />
</g>
<g filter="url(#b5)">
<polygon points="1227.57,893.84 1233.72,868.91 1235.63,866.28 1258.65,865.98 1259.53,872.14 1246.63,873.31 1244.43,876.25 1241.06,896.77 1241.94,901.17 1231.96,902.64" fill="#2864ad" />
<polygon points="1235.63,866.28 1258.65,865.98 1257.62,867.74 1237.1,868.91" fill="#4f86c8" />
<line x1="1242.96" y1="876.25" x2="1240.76" y2="893.84" stroke="#c8c8a0" stroke-width="0.5" />
<polygon points="1143.99,899.71 1179.91,896.77 1229.03,887.98 1232.7,893.84 1242.23,896.04 1240.76,901.47 1179.91,913.2 1147.21,916.13 1144.72,911.44" fill="url(#cnb)" />
<line x1="1179.18" y1="897.95" x2="1179.91" y2="912.9" stroke="#184888" stroke-width="0.6" />
<polygon points="1124.19,848.09 1134.46,847.21 1135.19,905.57 1124.63,895.31" fill="#a9b2c0" />
<polygon points="1125.66,849.85 1132.99,849.27 1133.43,901.17 1126.1,893.84" fill="#c4ccd6" />
<polygon points="1134.46,847.21 1229.03,846.63 1231.96,885.78 1179.91,897.07 1143.99,901.17 1135.19,902.64" fill="url(#cnf)" />
<polygon points="1134.46,847.21 1229.03,846.63 1228.74,849.12 1134.6,849.85" fill="#f6f6fa" />
<polygon points="1135.19,855.72 1143.99,855.13 1144.72,901.17 1135.92,902.64" fill="#c9ced8" />
<rect x="1138.42" y="856.45" width="4.4" height="12.46" fill="#8a929e" />
<rect x="1138.42" y="873.31" width="4.4" height="16.13" fill="#7c8490" />
<rect x="1140.32" y="893.84" width="3.38" height="10.27" fill="#8a929e" />
<polygon points="1145.45,886.51 1179.91,884.31 1231.96,882.11 1231.96,885.78 1179.91,897.07 1144.72,901.17" fill="#dfe1ea" />
<rect x="1145.75" y="887.68" width="7.77" height="10.27" fill="#1e2228" />
<polygon points="1175.51,853.08 1196.77,852.49 1196.04,846.92 1201.17,846.63 1202.64,852.2 1217.3,852.05 1222.43,879.18 1180.94,882.99" fill="#252a31" />
<polygon points="1179.91,856.45 1196.04,855.72 1197.51,876.25 1184.31,878.45" fill="#3a4048" />
<polygon points="1184.31,856.45 1190.91,856.01 1193.84,868.91 1187.98,870.38" fill="#8a9098" opacity=".7"/>
<polygon points="1199.71,856.45 1209.24,856.01 1211.44,873.31 1202.64,874.78" fill="#6c737c" />
<rect x="1201.17" y="856.89" width="5.87" height="3.23" fill="#a8b4b0" />
<line x1="1202.64" y1="881.38" x2="1203.37" y2="884.31" stroke="#222" stroke-width="0.8" />
<polygon points="1222.43,861.58 1227.57,862.32 1229.03,870.38 1224.34,870.09" fill="#c2c8b8" />
<rect x="1151.32" y="853.67" width="10.26" height="3.81" fill="#d02a28" />
<circle cx="1150.73" cy="876.83" r="1.91" fill="#15171b" />
<rect x="1149.56" y="879.91" width="2.05" height="1.03" fill="#c03030" />
<polygon points="1147.21,868.91 1149.12,867.16 1151.32,868.91 1152.05,870.38 1147.21,870.67" fill="#444" />
<rect x="1171.55" y="866.72" width="4.7" height="1.46" fill="#c85a5a" />
<rect x="1152.49" y="825.22" width="8.36" height="17.01" fill="#1c1c1e" />
<rect x="1153.08" y="826.1" width="7.18" height="9.82" fill="#d22a14" />
<rect x="1156.3" y="826.39" width="0.88" height="9.39" fill="#5a1208" />
<rect x="1153.52" y="842.23" width="6.3" height="4.98" fill="#d8dae0" />
<polygon points="1163.05,840.32 1168.18,837.83 1176.25,835.92 1176.98,845.45 1164.52,845.75" fill="#16181c" />
<polygon points="1177.71,836.95 1192.67,836.07 1194.57,842.82 1180.35,844.72" fill="#2a2e34" />
<polygon points="1179.91,838.42 1191.2,837.68 1192.38,841.79 1181.52,842.82" fill="#4a5058" />
<polygon points="1187.98,842.82 1198.24,841.06 1198.53,846.63 1188.56,846.92" fill="#e8e8ee" />
<rect x="1178.45" y="911.73" width="10.99" height="4.84" rx="1.47" fill="#e89018" />
<rect x="1180.35" y="912.61" width="3.52" height="3.23" fill="#3a3020" />
<rect x="1185.04" y="912.61" width="3.23" height="3.23" fill="#3a3020" />
<path d="M1138.42 909.24C1143.99 915.84 1161.58 915.84 1178.45 914.08" fill="none" stroke="#555" stroke-width=".4"/>
</g>
<g filter="url(#b5)">
<ellipse cx="1437.47" cy="899.03" rx="5.89" ry="2.88" fill="#8a7868" />
<ellipse cx="1399.5" cy="910.81" rx="3.27" ry="1.57" fill="#6a6a5a" />
<polygon points="1394.26,872.58 1483.55,854.91 1484.08,878.73 1396.62,910.16" fill="#35b81f" />
<polygon points="1425.03,846.66 1483.29,854.25 1483.55,855.82 1394.53,874.15 1394.53,871.53 1425.03,864.99" fill="url(#agt)" />
<polygon points="1331.42,858.7 1394.53,872.58 1396.62,910.16 1332.21,887.51" fill="#3cc024" />
<polygon points="1331.42,858.7 1394.53,872.58 1394.53,874.41 1331.42,860.8" fill="#2fa81c" opacity=".6"/>
<polygon points="1344.51,835.27 1409.32,842.47 1394.53,872.58 1331.42,858.7" fill="#5bdb3a" />
<polygon points="1409.32,842.47 1425.95,843.52 1425.69,865.25 1394.53,872.58" fill="#45c82c" />
<polygon points="1344.51,835.27 1409.32,842.47 1425.95,843.52 1365.46,836.84" fill="#6ae048" />
<polygon points="1394.79,893.79 1483.55,867.61 1483.82,874.41 1395.31,901.91" fill="#f5d800" />
<polygon points="1395.97,893.44 1402.92,891.39 1395.46,901.86 1395.31,901.91" fill="#151510" />
<polygon points="1410.77,889.08 1417.72,887.03 1410.21,897.28 1403.28,899.43" fill="#151510" />
<polygon points="1425.56,884.71 1432.51,882.66 1424.96,892.7 1418.03,894.85" fill="#151510" />
<polygon points="1440.35,880.35 1447.31,878.3 1439.71,888.12 1432.78,890.27" fill="#151510" />
<polygon points="1455.15,875.99 1462.1,873.93 1454.46,883.53 1447.53,885.69" fill="#151510" />
<polygon points="1469.94,871.62 1476.9,869.57 1469.21,878.95 1462.28,881.1" fill="#151510" />
<text x="1417.18" y="882.79" transform="rotate(-15 1417.18 882.79)" font-family="Liberation Sans,sans-serif" font-weight="700" font-style="italic" font-size="6.6" fill="#1a52c0" textLength="30" lengthAdjust="spacingAndGlyphs">JUNHER</text>
<polygon points="1323.3,884.89 1328.15,882.79 1396.88,909.5 1396.62,914.48 1385.75,917.09 1323.83,890.12" fill="#f5d800" stroke="#151510" stroke-width=".5" stroke-linejoin="round"/>
<polygon points="1324.87,885.26 1329.57,886.92 1334.58,894.34 1330.22,892.63" fill="#151510" />
<polygon points="1335.31,888.96 1340,890.63 1344.27,898.14 1339.91,896.43" fill="#151510" />
<polygon points="1345.74,892.66 1350.44,894.33 1353.96,901.93 1349.6,900.22" fill="#151510" />
<polygon points="1356.18,896.37 1360.88,898.03 1363.65,905.73 1359.29,904.02" fill="#151510" />
<polygon points="1366.62,900.07 1371.31,901.74 1373.34,909.53 1368.98,907.82" fill="#151510" />
<polygon points="1377.05,903.77 1381.75,905.44 1383.02,913.32 1378.66,911.61" fill="#151510" />
<polygon points="1387.49,907.48 1392.19,909.14 1391.65,916.7 1388.35,915.41" fill="#151510" />
<polygon points="1344.25,836.58 1369.13,839.33 1356.56,858.7 1333.78,853.99" fill="#22301e" />
<polygon points="1346.08,839.06 1366.12,841.16 1355.64,855.82 1336.92,852.16" fill="#e4e6e4" />
<polygon points="1347.39,840.77 1363.89,842.47 1354.99,853.86 1339.28,850.85" fill="url(#ags)" />
<circle cx="1367.03" cy="851.37" r="1.57" fill="#e8e8e0" />
<rect x="1364.41" y="853.73" width="4.19" height="1.31" fill="#f0f0e8" />
<circle cx="1373.32" cy="852.16" r="1.57" fill="#24c040" />
<rect x="1370.7" y="854.51" width="4.19" height="1.31" fill="#f0f0e8" />
<circle cx="1380.52" cy="853.2" r="1.57" fill="#e8d020" />
<rect x="1377.9" y="855.56" width="4.19" height="1.31" fill="#f0f0e8" />
<circle cx="1387.98" cy="854.25" r="1.57" fill="#24c040" />
<rect x="1385.36" y="856.61" width="4.19" height="1.31" fill="#f0f0e8" />
<circle cx="1396.23" cy="855.56" r="1.57" fill="#e02020" />
<rect x="1393.61" y="857.92" width="4.19" height="1.31" fill="#f0f0e8" />
<ellipse cx="1405.39" cy="840.9" rx="1.7" ry="1.18" fill="#d82818" />
<polygon points="1342.55,875.2 1349.75,873.63 1364.81,876.12 1364.81,884.89 1354.99,885.28 1342.94,882.66" fill="#c4c4b4" />
<polygon points="1343.47,876.12 1354.99,877.82 1354.99,884.63 1343.73,882.01" fill="#9a8a80" />
</g>
<g filter="url(#b5)">
<polygon points="1577.11,911.4 1586.84,908.26 1630.49,912.97 1629.71,915.64 1599.09,923.49 1577.89,914.54" fill="#101114" />
<polygon points="1586.53,908.26 1590.45,897.27 1615.57,897.27 1621.85,910.61 1600.66,915.32" fill="#16181c" />
<polygon points="1578.68,912.5 1599.09,921.29 1629.23,914.07" fill="none" stroke="#6a6e78" stroke-width=".5"/>
<rect x="1607.72" y="905.12" width="5.5" height="5.18" rx="0.94" fill="#3a7ad0" />
<path d="M1573.18 866.65C1575.53 856.44 1586.53 852.52 1599.09 858.8L1603.8 866.65C1611.65 863.51 1624.21 863.51 1626.57 872.93C1628.14 882.35 1621.07 887.06 1616.36 888.63L1617.14 894.91L1611.65 898.84L1589.67 898.84L1586.53 893.34C1578.68 887.06 1572.08 877.64 1573.18 866.65Z" fill="#f26a12" />
<path d="M1573.18 866.65C1574.75 879.21 1580.25 888.63 1586.53 893.34L1589.67 898.84L1592.81 898.84C1583.39 885.49 1577.11 876.07 1577.11 863.51Z" fill="#d4540a" />
<path d="M1617.14 866.65C1624.21 867.43 1626.57 874.5 1624.21 881.57C1621.85 885.49 1617.93 887.06 1615.57 885.49C1619.5 879.21 1620.28 872.93 1617.14 866.65Z" fill="#ff8a3a" />
<ellipse cx="1577.89" cy="883.14" rx="2.2" ry="6.28" fill="#18191c" />
<path d="M1580.56 855.66C1589.67 841.53 1599.09 830.53 1611.65 820.33L1628.14 832.11C1617.93 841.53 1608.51 850.95 1601.44 859.58C1595.95 854.09 1586.53 853.3 1580.56 855.66Z" fill="#f26a12" />
<path d="M1601.44 859.58C1608.51 850.95 1617.93 841.53 1628.14 832.11L1624.21 829.28C1614.79 838.39 1603.8 849.38 1596.73 856.44Z" fill="#d4540a" opacity=".7"/>
<circle cx="1592.49" cy="847.02" r="0.79" fill="#e8d8c8" />
<circle cx="1597.52" cy="841.53" r="0.79" fill="#e8d8c8" />
<circle cx="1601.44" cy="848.59" r="0.79" fill="#e8d8c8" />
<circle cx="1596.73" cy="853.77" r="0.79" fill="#e8d8c8" />
<rect x="1601.44" y="866.65" width="10.99" height="18.84" rx="1.26" fill="#1a1b1f" />
<path d="M1612.43 872.93C1617.93 872.14 1617.93 882.35 1612.43 883.14" fill="none" stroke="#1a1b1f" stroke-width="1.4"/>
<polygon points="1584.17,858.8 1599.09,857.54 1599.87,870.57 1592.81,879.21 1585.74,872.93" fill="#3c3e44" />
<rect x="1594.38" y="860.68" width="4.08" height="9.11" fill="#7a7c80" />
<circle cx="1596.26" cy="863.19" r="0.79" fill="#e8d040" />
<line x1="1592.81" y1="872.93" x2="1593.59" y2="885.49" stroke="#222" stroke-width="1.1" />
<line x1="1597.52" y1="879.21" x2="1598.77" y2="888.63" stroke="#222" stroke-width="0.9" />
<polygon points="1606.94,809.81 1617.93,805.41 1643.05,799.13 1645.88,805.41 1639.91,818.76 1630.49,832.11 1618.71,832.89 1615.57,822.68" fill="#f26a12" />
<polygon points="1617.93,805.41 1643.05,799.13 1645.88,805.41 1624.21,810.12" fill="#d4540a" />
<polygon points="1628.92,806.2 1639.91,801.96 1638.34,816.4 1630.49,817.97" fill="#1c1c20" />
<polygon points="1618.71,824.25 1632.06,820.33 1638.34,817.19 1636.77,824.25 1627.35,832.11 1620.28,832.89" fill="#222328" />
<polygon points="1606.94,808.55 1615.57,805.73 1617.93,810.12 1608.51,814.05" fill="#1c1c20" />
<path d="M1619.5 808.55C1621.07 819.54 1627.35 822.68 1633.63 820.33" fill="none" stroke="#16161a" stroke-width="1"/>
<path d="M1617.93 813.26L1583.39 821.9L1577.11 821.9C1564.54 824.25 1553.55 827.39 1549.63 832.11C1546.49 836.82 1547.27 844.67 1551.98 847.02L1561.4 845.45C1570.82 839.96 1581.82 835.25 1586.53 832.11L1617.93 827.08Z" fill="url(#rba)" />
<line x1="1581.82" y1="822.68" x2="1584.96" y2="832.11" stroke="#d4540a" stroke-width="0.8" />
<circle cx="1555.91" cy="835.56" r="2.51" fill="#3a78d0" stroke="#f8b080" stroke-width=".8"/>
<polygon points="1550.73,846.55 1560.15,844.67 1560.78,851.73 1551.98,853.62" fill="#8a8c92" />
<polygon points="1550.73,846.55 1560.15,844.67 1560.3,846.55 1550.88,848.43" fill="#d4540a" />
<line x1="1588.72" y1="827.08" x2="1607.25" y2="820.17" stroke="#f4c8a0" stroke-width="1.9" stroke-linecap="round" opacity=".8"/>
<line x1="1588.72" y1="827.08" x2="1607.25" y2="820.17" stroke="#3a6ac8" stroke-width="1.2" stroke-dasharray="1.4 .5"/>
<ellipse cx="1617.93" cy="837.6" rx="4.71" ry="3.45" fill="#fff" filter="url(#b8)" opacity=".75"/>
<ellipse cx="1548.53" cy="836.82" rx="2.2" ry="6.28" fill="#fff" filter="url(#b8)" opacity=".6"/>
</g>
</svg>
</body></html>
